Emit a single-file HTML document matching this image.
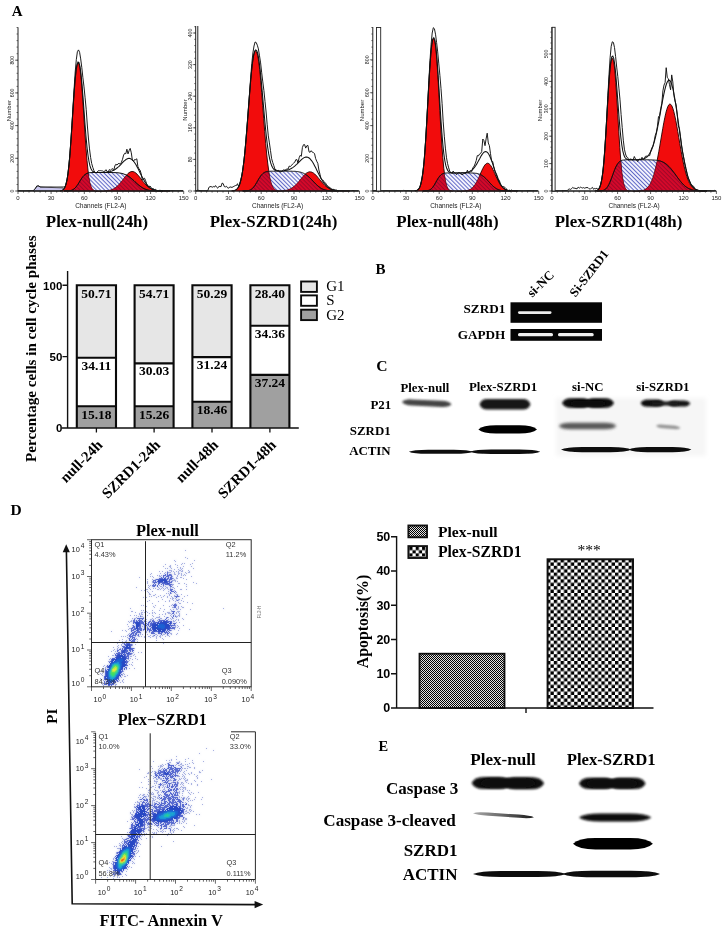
<!DOCTYPE html>
<html lang="en"><head><meta charset="utf-8"><title>Figure</title>
<style>html,body{margin:0;padding:0;background:#fff}svg{display:block}</style></head>
<body><svg width="724" height="930" viewBox="0 0 724 930">
<rect width="724" height="930" fill="#fff"/>
<defs>
<pattern id="hatch" width="2.9" height="2.9" patternUnits="userSpaceOnUse" patternTransform="rotate(-45)"><line x1="0.5" y1="0" x2="0.5" y2="2.9" stroke="#3a46b8" stroke-width="0.8"/></pattern>
<pattern id="hatchR" width="2.9" height="2.9" patternUnits="userSpaceOnUse" patternTransform="rotate(-45)"><line x1="0.5" y1="0" x2="0.5" y2="2.9" stroke="#7a0626" stroke-width="0.8" stroke-opacity="0.75"/></pattern>
<pattern id="chkS" width="2" height="2" patternUnits="userSpaceOnUse"><rect width="2" height="2" fill="#000"/><rect x="1" y="0" width="0.94" height="0.94" fill="#fff"/><rect x="0" y="1" width="0.94" height="0.94" fill="#fff"/></pattern>
<pattern id="chkL" x="547" y="559" width="6.8" height="6.8" patternUnits="userSpaceOnUse"><rect width="6.8" height="6.8" fill="#fff"/><rect width="3.4" height="3.4" fill="#000"/><rect x="3.4" y="3.4" width="3.4" height="3.4" fill="#000"/></pattern>
<pattern id="chkL2" x="409.3" y="547" width="6.4" height="6.4" patternUnits="userSpaceOnUse"><rect width="6.4" height="6.4" fill="#fff"/><rect width="3.2" height="3.2" fill="#000"/><rect x="3.2" y="3.2" width="3.2" height="3.2" fill="#000"/></pattern>
<filter id="b0" x="-20%" y="-80%" width="140%" height="260%"><feGaussianBlur stdDeviation="0.6"/></filter>
<filter id="b1" x="-20%" y="-80%" width="140%" height="260%"><feGaussianBlur stdDeviation="1.0"/></filter>
<filter id="b2" x="-20%" y="-80%" width="140%" height="260%"><feGaussianBlur stdDeviation="1.5"/></filter>
<filter id="b3" x="-20%" y="-80%" width="140%" height="260%"><feGaussianBlur stdDeviation="2.2"/></filter>
<filter id="b4" x="-20%" y="-80%" width="140%" height="260%"><feGaussianBlur stdDeviation="3.0"/></filter>
<filter id="bs" x="-5%" y="-5%" width="110%" height="110%"><feGaussianBlur stdDeviation="0.8"/></filter>
</defs>
<g>
<path d="M33,191 L37,186 L41,187 L63,188 L65,191 Z" fill="#c9c6ee" stroke="#222" stroke-width="0.6"/>
<path d="M60,191 L60,190.9 61,190.8 62,190.5 63,189.9 64,188.9 65,187.1 66,184.3 67,179.8 68,173.4 69,164.7 70,153.5 71,140.1 72,125.1 73,109.5 74,94.4 75,81.4 76,71.4 77,65.3 78,63 79,63.9 80,68.5 81,77 82,88.9 83,103.3 84,118.9 85,134.3 86,148.4 87,160.5 88,170.2 89,177.5 90,182.7 91,186.1 92,188.3 93,189.6 94,190.3 95,190.7 96,190.9 97,190.9 L97,191 Z" fill="#f20c0c" stroke="#200" stroke-width="0.9"/>
<path d="M95,191 L95,191 96,191 97,191 98,191 99,191 100,191 101,191 102,190.9 103,190.9 104,190.9 105,190.8 106,190.7 107,190.6 108,190.5 109,190.3 110,190.1 111,189.8 112,189.4 113,189 114,188.5 115,187.9 116,187.1 117,186.3 118,185.4 119,184.3 120,183.2 121,182 122,180.7 123,179.4 124,178.1 125,176.8 126,175.6 127,174.5 128,173.5 129,172.7 130,172.1 131,171.7 132,171.5 133,171.6 134,171.9 135,172.4 136,173.2 137,174.1 138,175.2 139,176.3 140,177.6 141,178.9 142,180.2 143,181.5 144,182.7 145,183.9 146,185 147,186 148,186.8 149,187.6 150,188.2 151,188.8 152,189.3 153,189.7 154,190 155,190.2 156,190.4 157,190.6 158,190.7 159,190.8 160,190.8 161,190.9 162,190.9 163,190.9 164,191 165,191 166,191 167,191 168,191 169,191 170,191 L170,191 Z" fill="#f20c0c" stroke="#200" stroke-width="0.9"/>
<path d="M64,191 L64,191 65,191 66,191 67,190.9 68,190.9 69,190.8 70,190.7 71,190.5 72,190.1 73,189.6 74,188.9 75,188.1 76,187 77,185.6 78,184.2 79,182.6 80,180.9 81,179.3 82,177.9 83,176.5 84,175.4 85,174.6 86,173.9 87,173.4 88,173 89,172.8 90,172.7 91,172.6 92,172.6 93,172.5 94,172.5 95,172.5 96,172.5 97,172.5 98,172.5 99,172.5 100,172.5 101,172.5 102,172.5 103,172.5 104,172.5 105,172.5 106,172.5 107,172.5 108,172.5 109,172.5 110,172.5 111,172.5 112,172.5 113,172.6 114,172.6 115,172.6 116,172.7 117,172.7 118,172.8 119,172.9 120,173.1 121,173.2 122,173.5 123,173.7 124,174.1 125,174.5 126,174.9 127,175.4 128,176 129,176.7 130,177.4 131,178.2 132,179 133,179.9 134,180.8 135,181.8 136,182.7 137,183.6 138,184.5 139,185.3 140,186.1 141,186.8 142,187.5 143,188.1 144,188.6 145,189 146,189.4 147,189.8 148,190 149,190.3 150,190.4 151,190.6 152,190.7 153,190.8 154,190.8 155,190.9 156,190.9 157,190.9 158,191 159,191 160,191 161,191 162,191 163,191 L163,191 Z" fill="#fff" fill-opacity="0.22"/>
<clipPath id="cs1"><path d="M64,191 L64,191 65,191 66,191 67,190.9 68,190.9 69,190.8 70,190.7 71,190.5 72,190.1 73,189.6 74,188.9 75,188.1 76,187 77,185.6 78,184.2 79,182.6 80,180.9 81,179.3 82,177.9 83,176.5 84,175.4 85,174.6 86,173.9 87,173.4 88,173 89,172.8 90,172.7 91,172.6 92,172.6 93,172.5 94,172.5 95,172.5 96,172.5 97,172.5 98,172.5 99,172.5 100,172.5 101,172.5 102,172.5 103,172.5 104,172.5 105,172.5 106,172.5 107,172.5 108,172.5 109,172.5 110,172.5 111,172.5 112,172.5 113,172.6 114,172.6 115,172.6 116,172.7 117,172.7 118,172.8 119,172.9 120,173.1 121,173.2 122,173.5 123,173.7 124,174.1 125,174.5 126,174.9 127,175.4 128,176 129,176.7 130,177.4 131,178.2 132,179 133,179.9 134,180.8 135,181.8 136,182.7 137,183.6 138,184.5 139,185.3 140,186.1 141,186.8 142,187.5 143,188.1 144,188.6 145,189 146,189.4 147,189.8 148,190 149,190.3 150,190.4 151,190.6 152,190.7 153,190.8 154,190.8 155,190.9 156,190.9 157,190.9 158,191 159,191 160,191 161,191 162,191 163,191 L163,191 Z"/></clipPath>
<path d="M89,172.8 90,172.7 91,172.6 92,172.6 93,172.5 94,172.5 95,172.5 96,172.5 97,172.5 98,172.5 99,172.5 100,172.5 101,172.5 102,172.5 103,172.5 104,172.5 105,172.5 106,172.5 107,172.5 108,172.5 109,172.5 110,172.5 111,172.5 112,172.5 113,172.6 114,172.6 115,172.6 116,172.7 117,172.7 118,172.8 119,172.9 120,173.1 121,173.2 122,173.5 123,173.7 124,174.1 125,174.5 126,174.9 L126,175.6 125,176.8 124,178.1 123,179.4 122,180.7 121,182 120,183.2 119,184.3 118,185.4 117,186.3 116,187.1 115,187.9 114,188.5 113,189 112,189.4 111,189.8 110,190.1 109,190.3 108,190.5 107,190.6 106,190.7 105,190.8 104,190.9 103,190.9 102,190.9 101,191 100,191 99,191 98,191 97,190.9 96,190.9 95,190.7 94,190.3 93,189.6 92,188.3 91,186.1 90,182.7 89,177.5Z" fill="#f4f3fd"/>
<path d="M64,191 L64,191 65,191 66,191 67,190.9 68,190.9 69,190.8 70,190.7 71,190.5 72,190.1 73,189.6 74,188.9 75,188.1 76,187 77,185.6 78,184.2 79,182.6 80,180.9 81,179.3 82,177.9 83,176.5 84,175.4 85,174.6 86,173.9 87,173.4 88,173 89,172.8 90,172.7 91,172.6 92,172.6 93,172.5 94,172.5 95,172.5 96,172.5 97,172.5 98,172.5 99,172.5 100,172.5 101,172.5 102,172.5 103,172.5 104,172.5 105,172.5 106,172.5 107,172.5 108,172.5 109,172.5 110,172.5 111,172.5 112,172.5 113,172.6 114,172.6 115,172.6 116,172.7 117,172.7 118,172.8 119,172.9 120,173.1 121,173.2 122,173.5 123,173.7 124,174.1 125,174.5 126,174.9 127,175.4 128,176 129,176.7 130,177.4 131,178.2 132,179 133,179.9 134,180.8 135,181.8 136,182.7 137,183.6 138,184.5 139,185.3 140,186.1 141,186.8 142,187.5 143,188.1 144,188.6 145,189 146,189.4 147,189.8 148,190 149,190.3 150,190.4 151,190.6 152,190.7 153,190.8 154,190.8 155,190.9 156,190.9 157,190.9 158,191 159,191 160,191 161,191 162,191 163,191 L163,191 Z" fill="url(#hatch)"/>
<path d="M64,191 L64,191 65,191 66,191 67,190.9 68,190.9 69,190.8 70,190.7 71,190.5 72,190.1 73,189.6 74,188.9 75,188.1 76,187 77,185.6 78,184.2 79,182.6 80,180.9 81,179.3 82,177.9 83,176.5 84,175.4 85,174.6 86,173.9 87,173.4 88,173 89,177.5 90,182.7 91,186.1 92,188.3 93,189.6 94,190.3 95,190.7 96,190.9 97,190.9 98,191 99,191 100,191 101,191 102,190.9 103,190.9 104,190.9 105,190.8 106,190.7 107,190.6 108,190.5 109,190.3 110,190.1 111,189.8 112,189.4 113,189 114,188.5 115,187.9 116,187.1 117,186.3 118,185.4 119,184.3 120,183.2 121,182 122,180.7 123,179.4 124,178.1 125,176.8 126,175.6 127,175.4 128,176 129,176.7 130,177.4 131,178.2 132,179 133,179.9 134,180.8 135,181.8 136,182.7 137,183.6 138,184.5 139,185.3 140,186.1 141,186.8 142,187.5 143,188.1 144,188.6 145,189 146,189.4 147,189.8 148,190 149,190.3 150,190.4 151,190.6 152,190.7 153,190.8 154,190.8 155,190.9 156,190.9 157,190.9 158,191 159,191 160,191 161,191 162,191 163,191 L163,191 Z" fill="#d4082a"/>
<path d="M64,191 L64,191 65,191 66,191 67,190.9 68,190.9 69,190.8 70,190.7 71,190.5 72,190.1 73,189.6 74,188.9 75,188.1 76,187 77,185.6 78,184.2 79,182.6 80,180.9 81,179.3 82,177.9 83,176.5 84,175.4 85,174.6 86,173.9 87,173.4 88,173 89,177.5 90,182.7 91,186.1 92,188.3 93,189.6 94,190.3 95,190.7 96,190.9 97,190.9 98,191 99,191 100,191 101,191 102,190.9 103,190.9 104,190.9 105,190.8 106,190.7 107,190.6 108,190.5 109,190.3 110,190.1 111,189.8 112,189.4 113,189 114,188.5 115,187.9 116,187.1 117,186.3 118,185.4 119,184.3 120,183.2 121,182 122,180.7 123,179.4 124,178.1 125,176.8 126,175.6 127,175.4 128,176 129,176.7 130,177.4 131,178.2 132,179 133,179.9 134,180.8 135,181.8 136,182.7 137,183.6 138,184.5 139,185.3 140,186.1 141,186.8 142,187.5 143,188.1 144,188.6 145,189 146,189.4 147,189.8 148,190 149,190.3 150,190.4 151,190.6 152,190.7 153,190.8 154,190.8 155,190.9 156,190.9 157,190.9 158,191 159,191 160,191 161,191 162,191 163,191 L163,191 Z" fill="url(#hatchR)" stroke="#300" stroke-width="0.5"/>
<path d="M64,191 L64,191 65,191 66,191 67,190.9 68,190.9 69,190.8 70,190.7 71,190.5 72,190.1 73,189.6 74,188.9 75,188.1 76,187 77,185.6 78,184.2 79,182.6 80,180.9 81,179.3 82,177.9 83,176.5 84,175.4 85,174.6 86,173.9 87,173.4 88,173 89,172.8 90,172.7 91,172.6 92,172.6 93,172.5 94,172.5 95,172.5 96,172.5 97,172.5 98,172.5 99,172.5 100,172.5 101,172.5 102,172.5 103,172.5 104,172.5 105,172.5 106,172.5 107,172.5 108,172.5 109,172.5 110,172.5 111,172.5 112,172.5 113,172.6 114,172.6 115,172.6 116,172.7 117,172.7 118,172.8 119,172.9 120,173.1 121,173.2 122,173.5 123,173.7 124,174.1 125,174.5 126,174.9 127,175.4 128,176 129,176.7 130,177.4 131,178.2 132,179 133,179.9 134,180.8 135,181.8 136,182.7 137,183.6 138,184.5 139,185.3 140,186.1 141,186.8 142,187.5 143,188.1 144,188.6 145,189 146,189.4 147,189.8 148,190 149,190.3 150,190.4 151,190.6 152,190.7 153,190.8 154,190.8 155,190.9 156,190.9 157,190.9 158,191 159,191 160,191 161,191 162,191 163,191 L163,191 Z" fill="none" stroke="#111" stroke-width="1"/>
<path d="M18,191 19,191 20,191 21,191 22,191 23,191 24,191 25,191 26,191 27,191 28,191 29,191 30,191 31,191 32,191 33,191 34,191 35,191 36,191 37,191 38,191 39,191 40,191 41,191 42,191 43,191 44,191 45,191 46,191 47,191 48,191 49,191 50,191 51,191 52,191 53,191 54,191 55,191 56,191 57,191 58,191 59,191 60,190.9 61,190.8 62,190.5 63,189.9 64,188.9 65,187.1 66,184.2 67,179.8 68,173.3 69,164.5 70,153.3 71,139.8 72,124.6 73,108.8 74,93.7 75,80.5 76,70.5 77,64.4 78,62 79,62.6 80,66.5 81,74 82,84.5 83,97.2 84,110.8 85,124.2 86,136.5 87,147 88,155.3 89,161.5 90,165.9 91,168.7 92,170.5 93,171.5 94,172 95,172.3 96,172.4 97,172.5 98,172.5 99,172.5 100,172.5 101,172.5 102,172.4 103,172.4 104,172.4 105,172.3 106,172.2 107,172.1 108,172 109,171.8 110,171.6 111,171.3 112,171 113,170.6 114,170.1 115,169.5 116,168.8 117,168 118,167.2 119,166.3 120,165.3 121,164.3 122,163.2 123,162.2 124,161.2 125,160.3 126,159.5 127,158.9 128,158.5 129,158.4 130,158.5 131,158.9 132,159.6 133,160.5 134,161.7 135,163.2 136,164.8 137,166.7 138,168.6 139,170.6 140,172.7 141,174.7 142,176.7 143,178.6 144,180.3 145,182 146,183.4 147,184.7 148,185.9 149,186.8 150,187.7 151,188.4 152,189 153,189.4 154,189.8 155,190.1 156,190.3 157,190.5 158,190.6 159,190.7 160,190.8 161,190.9 162,190.9 163,190.9 164,191 165,191 166,191 167,191 168,191 169,191 170,191 171,191 172,191 173,191 174,191 175,191 176,191 177,191 178,191 179,191 180,191 181,191 182,191 183,191" fill="none" stroke="#111" stroke-width="1.05"/>
<path d="M18,190.7 19.1,190.7 20.2,190.7 21.3,190.7 22.4,190.7 23.5,190.7 24.6,190.7 25.7,190.7 26.8,190.7 27.9,190.7 29,190.7 30.1,190.7 31.2,190.6 32.3,190.6 33.4,190.6 34.5,189.5 35.6,188.4 36.7,186.1 37.8,185.8 38.9,185.8 40,187 41.1,187 42.2,187 43.3,187 44.4,187 45.5,187 46.6,187 47.7,187 48.8,187 49.9,187 51,187 52.1,187 53.2,187 54.3,187 55.4,187 56.5,187 57.6,187 58.7,187 59.8,187 60.9,187 62,187 63.1,187 64.2,187 65.3,186.2 66.4,182.5 67.5,177.4 68.6,168.2 69.7,157.4 70.8,141.3 71.9,125.6 73,106.9 74.1,89 75.2,72 76.3,59.7 77.4,51.6 78.5,49.9 79.6,52.3 80.7,58.9 81.8,67.6 82.9,77.7 84,86.9 85.1,97.8 86.2,109.3 87.3,125 88.4,138 89.5,148.9 90.6,157.4 91.7,163.5 92.8,167.4 93.9,170.5 95,172.6 96.1,172.9 97.2,172.1 98.3,170.7 99.4,170.7 100.5,170.6 101.6,170.8 102.7,171 103.8,171.6 104.9,171.1 106,169.7 107.1,171.4 108.2,172.4 109.3,169.6 110.4,170.2 111.5,169.3 112.6,168.6 113.7,170.6 114.8,166 115.9,164.2 117,165.1 118.1,163.7 119.2,163.4 120.3,164.4 121.4,162.3 122.5,159.3 123.6,155.1 124.7,153.3 125.8,153.7 126.9,149.2 128,153.9 129.1,150.6 130.2,148.4 131.3,152.8 132.4,160.4 133.5,161.4 134.6,159.5 135.7,159.6 136.8,158.8 137.9,166.6 139,168.9 140.1,170.2 141.2,173.8 142.3,179.9 143.4,178.9 144.5,178.2 145.6,180.6 146.7,184.3 147.8,185.9 148.9,186.7 150,186 151.1,187.4 152.2,188.6 153.3,188.6 154.4,189.6 155.5,189.3 156.6,190.4 157.7,190.7 158.8,190.5 159.9,190.3 161,190.5 162.1,190.7 163.2,190.7 164.3,190.7 165.4,190.7 166.5,190.7 167.6,190.7 168.7,190.7 169.8,190.7 170.9,190.7 172,190.7 173.1,190.7 174.2,190.7 175.3,190.7 176.4,190.7 177.5,190.7 178.6,190.7 179.7,190.7 180.8,190.5 181.9,190.7 183,190.7" fill="none" stroke="#111" stroke-width="0.95" stroke-linejoin="round"/>
<path d="M18,27.3 V191 H183.7" fill="none" stroke="#222" stroke-width="1"/>
<path d="M18,191v3M23.5,191v1.6M29,191v1.6M34.6,191v1.6M40.1,191v1.6M45.6,191v1.6M51.1,191v3M56.7,191v1.6M62.2,191v1.6M67.7,191v1.6M73.2,191v1.6M78.8,191v1.6M84.3,191v3M89.8,191v1.6M95.3,191v1.6M100.8,191v1.6M106.4,191v1.6M111.9,191v1.6M117.4,191v3M122.9,191v1.6M128.5,191v1.6M134,191v1.6M139.5,191v1.6M145,191v1.6M150.6,191v3M156.1,191v1.6M161.6,191v1.6M167.1,191v1.6M172.7,191v1.6M178.2,191v1.6M183.7,191v3" stroke="#222" stroke-width="0.7"/>
<text x="18" y="200.3" font-family='"Liberation Sans", sans-serif' font-size="6" text-anchor="middle" fill="#222">0</text>
<text x="51.1" y="200.3" font-family='"Liberation Sans", sans-serif' font-size="6" text-anchor="middle" fill="#222">30</text>
<text x="84.3" y="200.3" font-family='"Liberation Sans", sans-serif' font-size="6" text-anchor="middle" fill="#222">60</text>
<text x="117.4" y="200.3" font-family='"Liberation Sans", sans-serif' font-size="6" text-anchor="middle" fill="#222">90</text>
<text x="150.6" y="200.3" font-family='"Liberation Sans", sans-serif' font-size="6" text-anchor="middle" fill="#222">120</text>
<text x="183.7" y="200.3" font-family='"Liberation Sans", sans-serif' font-size="6" text-anchor="middle" fill="#222">150</text>
<text x="100.8" y="208.2" font-family='"Liberation Sans", sans-serif' font-size="6.5" text-anchor="middle" fill="#222">Channels (FL2-A)</text>
<text transform="translate(14,191) rotate(-90)" font-family='"Liberation Sans", sans-serif' font-size="5.2" text-anchor="middle" fill="#222">0</text>
<text transform="translate(14,158.3) rotate(-90)" font-family='"Liberation Sans", sans-serif' font-size="5.2" text-anchor="middle" fill="#222">200</text>
<text transform="translate(14,125.6) rotate(-90)" font-family='"Liberation Sans", sans-serif' font-size="5.2" text-anchor="middle" fill="#222">400</text>
<text transform="translate(14,92.9) rotate(-90)" font-family='"Liberation Sans", sans-serif' font-size="5.2" text-anchor="middle" fill="#222">600</text>
<text transform="translate(14,60.2) rotate(-90)" font-family='"Liberation Sans", sans-serif' font-size="5.2" text-anchor="middle" fill="#222">800</text>
<path d="M18,191h-3M18,158.3h-3M18,125.6h-3M18,92.9h-3M18,60.2h-3M18,191h-1.5M18,184.5h-1.5M18,177.9h-1.5M18,171.4h-1.5M18,164.8h-1.5M18,158.3h-1.5M18,151.8h-1.5M18,145.2h-1.5M18,138.7h-1.5M18,132.1h-1.5M18,125.6h-1.5M18,119.1h-1.5M18,112.5h-1.5M18,106h-1.5M18,99.4h-1.5M18,92.9h-1.5M18,86.4h-1.5M18,79.8h-1.5M18,73.3h-1.5M18,66.7h-1.5M18,60.2h-1.5M18,53.7h-1.5M18,47.1h-1.5M18,40.6h-1.5M18,34h-1.5M18,27.5h-1.5" stroke="#222" stroke-width="0.6"/>
<text transform="translate(11,110.7) rotate(-90)" font-family='"Liberation Sans", sans-serif' font-size="6" text-anchor="middle" fill="#222">Number</text>
</g>
<g>
<path d="M231.7,191 L231.7,190.9 232.7,190.8 233.7,190.7 234.7,190.4 235.7,190 236.7,189.3 237.7,188.3 238.7,186.6 239.7,184.3 240.7,180.9 241.7,176.4 242.7,170.5 243.7,163 244.7,154 245.7,143.4 246.7,131.5 247.7,118.7 248.7,105.4 249.7,92.4 250.7,80.3 251.7,69.7 252.7,61.3 253.7,55.3 254.7,51.9 255.7,51 256.7,51.9 257.7,55.3 258.7,61.3 259.7,69.7 260.7,80.3 261.7,92.4 262.7,105.4 263.7,118.7 264.7,131.5 265.7,143.4 266.7,154 267.7,163 268.7,170.5 269.7,176.4 270.7,180.9 271.7,184.3 272.7,186.6 273.7,188.3 274.7,189.3 275.7,190 276.7,190.4 277.7,190.7 278.7,190.8 279.7,190.9 L279.7,191 Z" fill="#f20c0c" stroke="#200" stroke-width="0.9"/>
<path d="M270.7,191 L270.7,191 271.7,191 272.7,191 273.7,191 274.7,191 275.7,191 276.7,191 277.7,190.9 278.7,190.9 279.7,190.9 280.7,190.8 281.7,190.8 282.7,190.7 283.7,190.6 284.7,190.4 285.7,190.3 286.7,190.1 287.7,189.8 288.7,189.4 289.7,189 290.7,188.6 291.7,188 292.7,187.3 293.7,186.6 294.7,185.8 295.7,184.8 296.7,183.8 297.7,182.7 298.7,181.5 299.7,180.3 300.7,179.1 301.7,177.9 302.7,176.7 303.7,175.6 304.7,174.6 305.7,173.7 306.7,172.9 307.7,172.4 308.7,172 309.7,171.8 310.7,171.9 311.7,172.1 312.7,172.6 313.7,173.2 314.7,174 315.7,175 316.7,176 317.7,177.2 318.7,178.4 319.7,179.6 320.7,180.8 321.7,182 322.7,183.1 323.7,184.2 324.7,185.2 325.7,186.1 326.7,186.9 327.7,187.6 328.7,188.2 329.7,188.8 330.7,189.2 331.7,189.6 332.7,189.9 333.7,190.1 334.7,190.3 335.7,190.5 336.7,190.6 337.7,190.7 338.7,190.8 339.7,190.9 340.7,190.9 341.7,190.9 342.7,190.9 343.7,191 344.7,191 345.7,191 346.7,191 347.7,191 348.7,191 349.7,191 L349.7,191 Z" fill="#f20c0c" stroke="#200" stroke-width="0.9"/>
<path d="M242.7,191 L242.7,191 243.7,191 244.7,191 245.7,190.9 246.7,190.8 247.7,190.7 248.7,190.5 249.7,190.2 250.7,189.7 251.7,189 252.7,188.2 253.7,187.1 254.7,185.7 255.7,184.2 256.7,182.5 257.7,180.7 258.7,179 259.7,177.4 260.7,175.9 261.7,174.7 262.7,173.7 263.7,172.9 264.7,172.3 265.7,171.9 266.7,171.6 267.7,171.4 268.7,171.3 269.7,171.3 270.7,171.2 271.7,171.2 272.7,171.2 273.7,171.2 274.7,171.2 275.7,171.2 276.7,171.2 277.7,171.2 278.7,171.2 279.7,171.2 280.7,171.2 281.7,171.2 282.7,171.2 283.7,171.2 284.7,171.2 285.7,171.2 286.7,171.2 287.7,171.2 288.7,171.2 289.7,171.2 290.7,171.2 291.7,171.2 292.7,171.3 293.7,171.3 294.7,171.3 295.7,171.4 296.7,171.5 297.7,171.6 298.7,171.8 299.7,172 300.7,172.2 301.7,172.5 302.7,172.9 303.7,173.3 304.7,173.9 305.7,174.5 306.7,175.2 307.7,175.9 308.7,176.8 309.7,177.7 310.7,178.7 311.7,179.7 312.7,180.8 313.7,181.8 314.7,182.9 315.7,183.9 316.7,184.8 317.7,185.7 318.7,186.6 319.7,187.3 320.7,188 321.7,188.6 322.7,189.1 323.7,189.5 324.7,189.8 325.7,190.1 326.7,190.3 327.7,190.5 328.7,190.6 329.7,190.7 330.7,190.8 331.7,190.9 332.7,190.9 333.7,190.9 334.7,191 335.7,191 336.7,191 337.7,191 338.7,191 L338.7,191 Z" fill="#fff" fill-opacity="0.22"/>
<clipPath id="cs2"><path d="M242.7,191 L242.7,191 243.7,191 244.7,191 245.7,190.9 246.7,190.8 247.7,190.7 248.7,190.5 249.7,190.2 250.7,189.7 251.7,189 252.7,188.2 253.7,187.1 254.7,185.7 255.7,184.2 256.7,182.5 257.7,180.7 258.7,179 259.7,177.4 260.7,175.9 261.7,174.7 262.7,173.7 263.7,172.9 264.7,172.3 265.7,171.9 266.7,171.6 267.7,171.4 268.7,171.3 269.7,171.3 270.7,171.2 271.7,171.2 272.7,171.2 273.7,171.2 274.7,171.2 275.7,171.2 276.7,171.2 277.7,171.2 278.7,171.2 279.7,171.2 280.7,171.2 281.7,171.2 282.7,171.2 283.7,171.2 284.7,171.2 285.7,171.2 286.7,171.2 287.7,171.2 288.7,171.2 289.7,171.2 290.7,171.2 291.7,171.2 292.7,171.3 293.7,171.3 294.7,171.3 295.7,171.4 296.7,171.5 297.7,171.6 298.7,171.8 299.7,172 300.7,172.2 301.7,172.5 302.7,172.9 303.7,173.3 304.7,173.9 305.7,174.5 306.7,175.2 307.7,175.9 308.7,176.8 309.7,177.7 310.7,178.7 311.7,179.7 312.7,180.8 313.7,181.8 314.7,182.9 315.7,183.9 316.7,184.8 317.7,185.7 318.7,186.6 319.7,187.3 320.7,188 321.7,188.6 322.7,189.1 323.7,189.5 324.7,189.8 325.7,190.1 326.7,190.3 327.7,190.5 328.7,190.6 329.7,190.7 330.7,190.8 331.7,190.9 332.7,190.9 333.7,190.9 334.7,191 335.7,191 336.7,191 337.7,191 338.7,191 L338.7,191 Z"/></clipPath>
<path d="M269.7,171.3 270.7,171.2 271.7,171.2 272.7,171.2 273.7,171.2 274.7,171.2 275.7,171.2 276.7,171.2 277.7,171.2 278.7,171.2 279.7,171.2 280.7,171.2 281.7,171.2 282.7,171.2 283.7,171.2 284.7,171.2 285.7,171.2 286.7,171.2 287.7,171.2 288.7,171.2 289.7,171.2 290.7,171.2 291.7,171.2 292.7,171.3 293.7,171.3 294.7,171.3 295.7,171.4 296.7,171.5 297.7,171.6 298.7,171.8 299.7,172 300.7,172.2 301.7,172.5 302.7,172.9 303.7,173.3 304.7,173.9 L304.7,174.6 303.7,175.6 302.7,176.7 301.7,177.9 300.7,179.1 299.7,180.3 298.7,181.5 297.7,182.7 296.7,183.8 295.7,184.8 294.7,185.8 293.7,186.6 292.7,187.3 291.7,188 290.7,188.6 289.7,189 288.7,189.4 287.7,189.8 286.7,190.1 285.7,190.3 284.7,190.4 283.7,190.6 282.7,190.7 281.7,190.8 280.7,190.8 279.7,190.9 278.7,190.8 277.7,190.7 276.7,190.4 275.7,190 274.7,189.3 273.7,188.3 272.7,186.6 271.7,184.3 270.7,180.9 269.7,176.4Z" fill="#f4f3fd"/>
<path d="M242.7,191 L242.7,191 243.7,191 244.7,191 245.7,190.9 246.7,190.8 247.7,190.7 248.7,190.5 249.7,190.2 250.7,189.7 251.7,189 252.7,188.2 253.7,187.1 254.7,185.7 255.7,184.2 256.7,182.5 257.7,180.7 258.7,179 259.7,177.4 260.7,175.9 261.7,174.7 262.7,173.7 263.7,172.9 264.7,172.3 265.7,171.9 266.7,171.6 267.7,171.4 268.7,171.3 269.7,171.3 270.7,171.2 271.7,171.2 272.7,171.2 273.7,171.2 274.7,171.2 275.7,171.2 276.7,171.2 277.7,171.2 278.7,171.2 279.7,171.2 280.7,171.2 281.7,171.2 282.7,171.2 283.7,171.2 284.7,171.2 285.7,171.2 286.7,171.2 287.7,171.2 288.7,171.2 289.7,171.2 290.7,171.2 291.7,171.2 292.7,171.3 293.7,171.3 294.7,171.3 295.7,171.4 296.7,171.5 297.7,171.6 298.7,171.8 299.7,172 300.7,172.2 301.7,172.5 302.7,172.9 303.7,173.3 304.7,173.9 305.7,174.5 306.7,175.2 307.7,175.9 308.7,176.8 309.7,177.7 310.7,178.7 311.7,179.7 312.7,180.8 313.7,181.8 314.7,182.9 315.7,183.9 316.7,184.8 317.7,185.7 318.7,186.6 319.7,187.3 320.7,188 321.7,188.6 322.7,189.1 323.7,189.5 324.7,189.8 325.7,190.1 326.7,190.3 327.7,190.5 328.7,190.6 329.7,190.7 330.7,190.8 331.7,190.9 332.7,190.9 333.7,190.9 334.7,191 335.7,191 336.7,191 337.7,191 338.7,191 L338.7,191 Z" fill="url(#hatch)"/>
<path d="M242.7,191 L242.7,191 243.7,191 244.7,191 245.7,190.9 246.7,190.8 247.7,190.7 248.7,190.5 249.7,190.2 250.7,189.7 251.7,189 252.7,188.2 253.7,187.1 254.7,185.7 255.7,184.2 256.7,182.5 257.7,180.7 258.7,179 259.7,177.4 260.7,175.9 261.7,174.7 262.7,173.7 263.7,172.9 264.7,172.3 265.7,171.9 266.7,171.6 267.7,171.4 268.7,171.3 269.7,176.4 270.7,180.9 271.7,184.3 272.7,186.6 273.7,188.3 274.7,189.3 275.7,190 276.7,190.4 277.7,190.7 278.7,190.8 279.7,190.9 280.7,190.8 281.7,190.8 282.7,190.7 283.7,190.6 284.7,190.4 285.7,190.3 286.7,190.1 287.7,189.8 288.7,189.4 289.7,189 290.7,188.6 291.7,188 292.7,187.3 293.7,186.6 294.7,185.8 295.7,184.8 296.7,183.8 297.7,182.7 298.7,181.5 299.7,180.3 300.7,179.1 301.7,177.9 302.7,176.7 303.7,175.6 304.7,174.6 305.7,174.5 306.7,175.2 307.7,175.9 308.7,176.8 309.7,177.7 310.7,178.7 311.7,179.7 312.7,180.8 313.7,181.8 314.7,182.9 315.7,183.9 316.7,184.8 317.7,185.7 318.7,186.6 319.7,187.3 320.7,188 321.7,188.6 322.7,189.1 323.7,189.5 324.7,189.8 325.7,190.1 326.7,190.3 327.7,190.5 328.7,190.6 329.7,190.7 330.7,190.8 331.7,190.9 332.7,190.9 333.7,190.9 334.7,191 335.7,191 336.7,191 337.7,191 338.7,191 L338.7,191 Z" fill="#d4082a"/>
<path d="M242.7,191 L242.7,191 243.7,191 244.7,191 245.7,190.9 246.7,190.8 247.7,190.7 248.7,190.5 249.7,190.2 250.7,189.7 251.7,189 252.7,188.2 253.7,187.1 254.7,185.7 255.7,184.2 256.7,182.5 257.7,180.7 258.7,179 259.7,177.4 260.7,175.9 261.7,174.7 262.7,173.7 263.7,172.9 264.7,172.3 265.7,171.9 266.7,171.6 267.7,171.4 268.7,171.3 269.7,176.4 270.7,180.9 271.7,184.3 272.7,186.6 273.7,188.3 274.7,189.3 275.7,190 276.7,190.4 277.7,190.7 278.7,190.8 279.7,190.9 280.7,190.8 281.7,190.8 282.7,190.7 283.7,190.6 284.7,190.4 285.7,190.3 286.7,190.1 287.7,189.8 288.7,189.4 289.7,189 290.7,188.6 291.7,188 292.7,187.3 293.7,186.6 294.7,185.8 295.7,184.8 296.7,183.8 297.7,182.7 298.7,181.5 299.7,180.3 300.7,179.1 301.7,177.9 302.7,176.7 303.7,175.6 304.7,174.6 305.7,174.5 306.7,175.2 307.7,175.9 308.7,176.8 309.7,177.7 310.7,178.7 311.7,179.7 312.7,180.8 313.7,181.8 314.7,182.9 315.7,183.9 316.7,184.8 317.7,185.7 318.7,186.6 319.7,187.3 320.7,188 321.7,188.6 322.7,189.1 323.7,189.5 324.7,189.8 325.7,190.1 326.7,190.3 327.7,190.5 328.7,190.6 329.7,190.7 330.7,190.8 331.7,190.9 332.7,190.9 333.7,190.9 334.7,191 335.7,191 336.7,191 337.7,191 338.7,191 L338.7,191 Z" fill="url(#hatchR)" stroke="#300" stroke-width="0.5"/>
<path d="M242.7,191 L242.7,191 243.7,191 244.7,191 245.7,190.9 246.7,190.8 247.7,190.7 248.7,190.5 249.7,190.2 250.7,189.7 251.7,189 252.7,188.2 253.7,187.1 254.7,185.7 255.7,184.2 256.7,182.5 257.7,180.7 258.7,179 259.7,177.4 260.7,175.9 261.7,174.7 262.7,173.7 263.7,172.9 264.7,172.3 265.7,171.9 266.7,171.6 267.7,171.4 268.7,171.3 269.7,171.3 270.7,171.2 271.7,171.2 272.7,171.2 273.7,171.2 274.7,171.2 275.7,171.2 276.7,171.2 277.7,171.2 278.7,171.2 279.7,171.2 280.7,171.2 281.7,171.2 282.7,171.2 283.7,171.2 284.7,171.2 285.7,171.2 286.7,171.2 287.7,171.2 288.7,171.2 289.7,171.2 290.7,171.2 291.7,171.2 292.7,171.3 293.7,171.3 294.7,171.3 295.7,171.4 296.7,171.5 297.7,171.6 298.7,171.8 299.7,172 300.7,172.2 301.7,172.5 302.7,172.9 303.7,173.3 304.7,173.9 305.7,174.5 306.7,175.2 307.7,175.9 308.7,176.8 309.7,177.7 310.7,178.7 311.7,179.7 312.7,180.8 313.7,181.8 314.7,182.9 315.7,183.9 316.7,184.8 317.7,185.7 318.7,186.6 319.7,187.3 320.7,188 321.7,188.6 322.7,189.1 323.7,189.5 324.7,189.8 325.7,190.1 326.7,190.3 327.7,190.5 328.7,190.6 329.7,190.7 330.7,190.8 331.7,190.9 332.7,190.9 333.7,190.9 334.7,191 335.7,191 336.7,191 337.7,191 338.7,191 L338.7,191 Z" fill="none" stroke="#111" stroke-width="1"/>
<path d="M195.7,191 196.7,191 197.7,191 198.7,191 199.7,191 200.7,191 201.7,191 202.7,191 203.7,191 204.7,191 205.7,191 206.7,191 207.7,191 208.7,191 209.7,191 210.7,191 211.7,191 212.7,191 213.7,191 214.7,191 215.7,191 216.7,191 217.7,191 218.7,191 219.7,191 220.7,191 221.7,191 222.7,191 223.7,191 224.7,191 225.7,191 226.7,191 227.7,191 228.7,191 229.7,191 230.7,191 231.7,190.9 232.7,190.8 233.7,190.7 234.7,190.4 235.7,190 236.7,189.3 237.7,188.3 238.7,186.6 239.7,184.3 240.7,180.9 241.7,176.4 242.7,170.5 243.7,163 244.7,154 245.7,143.3 246.7,131.4 247.7,118.5 248.7,105.2 249.7,92.1 250.7,79.9 251.7,69.2 252.7,60.7 253.7,54.6 254.7,51.1 255.7,50 256.7,50.6 257.7,53.4 258.7,58.6 259.7,66 260.7,75.2 261.7,85.7 262.7,97.1 263.7,108.6 264.7,119.8 265.7,130.2 266.7,139.5 267.7,147.4 268.7,153.9 269.7,159 270.7,162.9 271.7,165.8 272.7,167.7 273.7,169.1 274.7,170 275.7,170.5 276.7,170.8 277.7,171 278.7,171 279.7,171 280.7,171 281.7,171 282.7,170.9 283.7,170.8 284.7,170.6 285.7,170.5 286.7,170.3 287.7,170 288.7,169.7 289.7,169.3 290.7,168.8 291.7,168.2 292.7,167.6 293.7,166.9 294.7,166.1 295.7,165.2 296.7,164.3 297.7,163.3 298.7,162.3 299.7,161.3 300.7,160.3 301.7,159.4 302.7,158.6 303.7,157.9 304.7,157.4 305.7,157.1 306.7,157.1 307.7,157.3 308.7,157.8 309.7,158.5 310.7,159.6 311.7,160.8 312.7,162.3 313.7,164 314.7,165.9 315.7,167.8 316.7,169.9 317.7,171.9 318.7,173.9 319.7,175.9 320.7,177.8 321.7,179.6 322.7,181.2 323.7,182.7 324.7,184 325.7,185.2 326.7,186.2 327.7,187.1 328.7,187.9 329.7,188.5 330.7,189 331.7,189.5 332.7,189.8 333.7,190.1 334.7,190.3 335.7,190.5 336.7,190.6 337.7,190.7 338.7,190.8 339.7,190.9 340.7,190.9 341.7,190.9 342.7,190.9 343.7,191 344.7,191 345.7,191 346.7,191 347.7,191 348.7,191 349.7,191 350.7,191 351.7,191 352.7,191 353.7,191 354.7,191 355.7,191 356.7,191 357.7,191 358.7,191" fill="none" stroke="#111" stroke-width="1.05"/>
<path d="M195.7,190.7 196.8,190.7 197.9,190.1 199,190.5 200.1,190.7 201.2,190.7 202.3,190.7 203.4,190.7 204.5,190.7 205.6,190.7 206.7,190.7 207.8,190.7 208.9,187.3 210,186.7 211.1,186.5 212.2,187.3 213.3,186.5 214.4,187.1 215.5,185.6 216.6,187.2 217.7,188.2 218.8,186.5 219.9,186.4 221,186.7 222.1,183.1 223.2,183.6 224.3,186.6 225.4,186.9 226.5,186.3 227.6,187.8 228.7,188.2 229.8,186.9 230.9,187.1 232,187.4 233.1,186.8 234.2,186.2 235.3,185.6 236.4,185.5 237.5,183.7 238.6,186.7 239.7,183.9 240.8,179.7 241.9,175.3 243,167.9 244.1,159.7 245.2,148.4 246.3,135.1 247.4,121.5 248.5,106.6 249.6,92.6 250.7,77.3 251.8,63.6 252.9,53 254,46 255.1,42 256.2,42.5 257.3,45.2 258.4,48.9 259.5,55.8 260.6,62.9 261.7,72.8 262.8,81.9 263.9,90.5 265,101.4 266.1,112 267.2,124.8 268.3,135.9 269.4,142.9 270.5,150.6 271.6,158.5 272.7,162.4 273.8,165.6 274.9,169.2 276,169.8 277.1,170.7 278.2,170.3 279.3,171.1 280.4,172.2 281.5,171.5 282.6,170.7 283.7,169.6 284.8,170.3 285.9,169.5 287,169 288.1,169.1 289.2,166.1 290.3,166.5 291.4,165.6 292.5,164.1 293.6,163.1 294.7,162.3 295.8,159.7 296.9,159.6 298,163 299.1,157.8 300.2,155.3 301.3,156.3 302.4,147.5 303.5,144.7 304.6,144.6 305.7,148.1 306.8,145.8 307.9,145.4 309,151.8 310.1,152.3 311.2,150.7 312.3,152.2 313.4,152.6 314.5,153.5 315.6,158.4 316.7,161.2 317.8,163.3 318.9,170 320,174.3 321.1,178.9 322.2,180 323.3,180.4 324.4,182.5 325.5,182.9 326.6,185.1 327.7,185.7 328.8,187.4 329.9,187.3 331,188.8 332.1,189.4 333.2,189.3 334.3,189.7 335.4,190 336.5,190 337.6,190.7 338.7,190.6 339.8,190.7 340.9,190.7 342,190.7 343.1,190.7 344.2,190.7 345.3,190.7 346.4,190.7 347.5,190.7 348.6,190.7 349.7,190.7 350.8,190.7 351.9,190.7 353,190.5 354.1,190.7 355.2,190.7 356.3,190.7 357.4,190.7 358.5,190.7" fill="none" stroke="#111" stroke-width="0.95" stroke-linejoin="round"/>
<path d="M195.7,26 V191 H359.5" fill="none" stroke="#222" stroke-width="1"/>
<path d="M195.7,191v3M201.2,191v1.6M206.6,191v1.6M212.1,191v1.6M217.5,191v1.6M223,191v1.6M228.5,191v3M233.9,191v1.6M239.4,191v1.6M244.8,191v1.6M250.3,191v1.6M255.8,191v1.6M261.2,191v3M266.7,191v1.6M272.1,191v1.6M277.6,191v1.6M283.1,191v1.6M288.5,191v1.6M294,191v3M299.4,191v1.6M304.9,191v1.6M310.4,191v1.6M315.8,191v1.6M321.3,191v1.6M326.7,191v3M332.2,191v1.6M337.7,191v1.6M343.1,191v1.6M348.6,191v1.6M354,191v1.6M359.5,191v3" stroke="#222" stroke-width="0.7"/>
<text x="195.7" y="200.3" font-family='"Liberation Sans", sans-serif' font-size="6" text-anchor="middle" fill="#222">0</text>
<text x="228.5" y="200.3" font-family='"Liberation Sans", sans-serif' font-size="6" text-anchor="middle" fill="#222">30</text>
<text x="261.2" y="200.3" font-family='"Liberation Sans", sans-serif' font-size="6" text-anchor="middle" fill="#222">60</text>
<text x="294" y="200.3" font-family='"Liberation Sans", sans-serif' font-size="6" text-anchor="middle" fill="#222">90</text>
<text x="326.7" y="200.3" font-family='"Liberation Sans", sans-serif' font-size="6" text-anchor="middle" fill="#222">120</text>
<text x="359.5" y="200.3" font-family='"Liberation Sans", sans-serif' font-size="6" text-anchor="middle" fill="#222">150</text>
<text x="277.6" y="208.2" font-family='"Liberation Sans", sans-serif' font-size="6.5" text-anchor="middle" fill="#222">Channels (FL2-A)</text>
<text transform="translate(191.7,191) rotate(-90)" font-family='"Liberation Sans", sans-serif' font-size="5.2" text-anchor="middle" fill="#222">0</text>
<text transform="translate(191.7,159.4) rotate(-90)" font-family='"Liberation Sans", sans-serif' font-size="5.2" text-anchor="middle" fill="#222">80</text>
<text transform="translate(191.7,127.8) rotate(-90)" font-family='"Liberation Sans", sans-serif' font-size="5.2" text-anchor="middle" fill="#222">160</text>
<text transform="translate(191.7,96.2) rotate(-90)" font-family='"Liberation Sans", sans-serif' font-size="5.2" text-anchor="middle" fill="#222">240</text>
<text transform="translate(191.7,64.6) rotate(-90)" font-family='"Liberation Sans", sans-serif' font-size="5.2" text-anchor="middle" fill="#222">320</text>
<text transform="translate(191.7,33) rotate(-90)" font-family='"Liberation Sans", sans-serif' font-size="5.2" text-anchor="middle" fill="#222">400</text>
<path d="M195.7,191h-3M195.7,159.4h-3M195.7,127.8h-3M195.7,96.2h-3M195.7,64.6h-3M195.7,33h-3M195.7,191h-1.5M195.7,184.7h-1.5M195.7,178.4h-1.5M195.7,172h-1.5M195.7,165.7h-1.5M195.7,159.4h-1.5M195.7,153.1h-1.5M195.7,146.8h-1.5M195.7,140.4h-1.5M195.7,134.1h-1.5M195.7,127.8h-1.5M195.7,121.5h-1.5M195.7,115.2h-1.5M195.7,108.8h-1.5M195.7,102.5h-1.5M195.7,96.2h-1.5M195.7,89.9h-1.5M195.7,83.6h-1.5M195.7,77.2h-1.5M195.7,70.9h-1.5M195.7,64.6h-1.5M195.7,58.3h-1.5M195.7,52h-1.5M195.7,45.6h-1.5M195.7,39.3h-1.5M195.7,33h-1.5M195.7,26.7h-1.5" stroke="#222" stroke-width="0.6"/>
<text transform="translate(186.5,110) rotate(-90)" font-family='"Liberation Sans", sans-serif' font-size="6" text-anchor="middle" fill="#222">Number</text>
</g>
<g>
<path d="M414.8,191 L414.8,190.9 415.8,190.8 416.8,190.5 417.8,190 418.8,189 419.8,187.3 420.8,184.4 421.8,180 422.8,173.5 423.8,164.4 424.8,152.5 425.8,138 426.8,121.2 427.8,103 428.8,84.9 429.8,68.2 430.8,54.4 431.8,44.7 432.8,39.5 433.8,38.5 434.8,41 435.8,48 436.8,59.5 437.8,74.6 438.8,92.1 439.8,110.4 440.8,128.1 441.8,144.1 442.8,157.6 443.8,168.3 444.8,176.3 445.8,182 446.8,185.7 447.8,188.1 448.8,189.4 449.8,190.2 450.8,190.6 451.8,190.8 452.8,190.9 L452.8,191 Z" fill="#f20c0c" stroke="#200" stroke-width="0.9"/>
<path d="M456.8,191 L456.8,191 457.8,191 458.8,191 459.8,191 460.8,191 461.8,190.9 462.8,190.9 463.8,190.8 464.8,190.8 465.8,190.6 466.8,190.5 467.8,190.2 468.8,189.9 469.8,189.5 470.8,188.9 471.8,188.2 472.8,187.2 473.8,186.1 474.8,184.8 475.8,183.2 476.8,181.4 477.8,179.4 478.8,177.3 479.8,175 480.8,172.8 481.8,170.6 482.8,168.5 483.8,166.6 484.8,165.1 485.8,164 486.8,163.4 487.8,163.2 488.8,163.6 489.8,164.4 490.8,165.7 491.8,167.3 492.8,169.3 493.8,171.4 494.8,173.7 495.8,176 496.8,178.2 497.8,180.2 498.8,182.2 499.8,183.9 500.8,185.3 501.8,186.6 502.8,187.6 503.8,188.5 504.8,189.1 505.8,189.6 506.8,190 507.8,190.3 508.8,190.5 509.8,190.7 510.8,190.8 511.8,190.9 512.8,190.9 513.8,190.9 514.8,191 515.8,191 516.8,191 517.8,191 L517.8,191 Z" fill="#f20c0c" stroke="#200" stroke-width="0.9"/>
<path d="M422.8,191 L422.8,191 423.8,191 424.8,191 425.8,190.9 426.8,190.8 427.8,190.6 428.8,190.3 429.8,189.9 430.8,189.2 431.8,188.3 432.8,187.2 433.8,185.7 434.8,184.1 435.8,182.3 436.8,180.5 437.8,178.8 438.8,177.3 439.8,176 440.8,175 441.8,174.2 442.8,173.7 443.8,173.4 444.8,173.2 445.8,173 446.8,173 447.8,172.9 448.8,172.9 449.8,172.9 450.8,172.9 451.8,172.9 452.8,172.9 453.8,172.9 454.8,172.9 455.8,172.9 456.8,172.9 457.8,172.9 458.8,172.9 459.8,172.9 460.8,172.9 461.8,172.9 462.8,172.9 463.8,172.9 464.8,172.9 465.8,172.9 466.8,172.9 467.8,172.9 468.8,172.9 469.8,172.9 470.8,172.9 471.8,173 472.8,173 473.8,173.1 474.8,173.2 475.8,173.3 476.8,173.4 477.8,173.7 478.8,174 479.8,174.3 480.8,174.8 481.8,175.3 482.8,176 483.8,176.7 484.8,177.6 485.8,178.5 486.8,179.6 487.8,180.6 488.8,181.7 489.8,182.8 490.8,183.9 491.8,185 492.8,185.9 493.8,186.8 494.8,187.6 495.8,188.3 496.8,188.9 497.8,189.4 498.8,189.8 499.8,190.1 500.8,190.4 501.8,190.6 502.8,190.7 503.8,190.8 504.8,190.9 505.8,190.9 506.8,190.9 507.8,191 508.8,191 509.8,191 510.8,191 L510.8,191 Z" fill="#fff" fill-opacity="0.22"/>
<clipPath id="cs3"><path d="M422.8,191 L422.8,191 423.8,191 424.8,191 425.8,190.9 426.8,190.8 427.8,190.6 428.8,190.3 429.8,189.9 430.8,189.2 431.8,188.3 432.8,187.2 433.8,185.7 434.8,184.1 435.8,182.3 436.8,180.5 437.8,178.8 438.8,177.3 439.8,176 440.8,175 441.8,174.2 442.8,173.7 443.8,173.4 444.8,173.2 445.8,173 446.8,173 447.8,172.9 448.8,172.9 449.8,172.9 450.8,172.9 451.8,172.9 452.8,172.9 453.8,172.9 454.8,172.9 455.8,172.9 456.8,172.9 457.8,172.9 458.8,172.9 459.8,172.9 460.8,172.9 461.8,172.9 462.8,172.9 463.8,172.9 464.8,172.9 465.8,172.9 466.8,172.9 467.8,172.9 468.8,172.9 469.8,172.9 470.8,172.9 471.8,173 472.8,173 473.8,173.1 474.8,173.2 475.8,173.3 476.8,173.4 477.8,173.7 478.8,174 479.8,174.3 480.8,174.8 481.8,175.3 482.8,176 483.8,176.7 484.8,177.6 485.8,178.5 486.8,179.6 487.8,180.6 488.8,181.7 489.8,182.8 490.8,183.9 491.8,185 492.8,185.9 493.8,186.8 494.8,187.6 495.8,188.3 496.8,188.9 497.8,189.4 498.8,189.8 499.8,190.1 500.8,190.4 501.8,190.6 502.8,190.7 503.8,190.8 504.8,190.9 505.8,190.9 506.8,190.9 507.8,191 508.8,191 509.8,191 510.8,191 L510.8,191 Z"/></clipPath>
<path d="M444.8,173.2 445.8,173 446.8,173 447.8,172.9 448.8,172.9 449.8,172.9 450.8,172.9 451.8,172.9 452.8,172.9 453.8,172.9 454.8,172.9 455.8,172.9 456.8,172.9 457.8,172.9 458.8,172.9 459.8,172.9 460.8,172.9 461.8,172.9 462.8,172.9 463.8,172.9 464.8,172.9 465.8,172.9 466.8,172.9 467.8,172.9 468.8,172.9 469.8,172.9 470.8,172.9 471.8,173 472.8,173 473.8,173.1 474.8,173.2 475.8,173.3 476.8,173.4 477.8,173.7 478.8,174 479.8,174.3 L479.8,175 478.8,177.3 477.8,179.4 476.8,181.4 475.8,183.2 474.8,184.8 473.8,186.1 472.8,187.2 471.8,188.2 470.8,188.9 469.8,189.5 468.8,189.9 467.8,190.2 466.8,190.5 465.8,190.6 464.8,190.8 463.8,190.8 462.8,190.9 461.8,190.9 460.8,191 459.8,191 458.8,191 457.8,191 456.8,191 455.8,191 454.8,191 453.8,191 452.8,190.9 451.8,190.8 450.8,190.6 449.8,190.2 448.8,189.4 447.8,188.1 446.8,185.7 445.8,182 444.8,176.3Z" fill="#f4f3fd"/>
<path d="M422.8,191 L422.8,191 423.8,191 424.8,191 425.8,190.9 426.8,190.8 427.8,190.6 428.8,190.3 429.8,189.9 430.8,189.2 431.8,188.3 432.8,187.2 433.8,185.7 434.8,184.1 435.8,182.3 436.8,180.5 437.8,178.8 438.8,177.3 439.8,176 440.8,175 441.8,174.2 442.8,173.7 443.8,173.4 444.8,173.2 445.8,173 446.8,173 447.8,172.9 448.8,172.9 449.8,172.9 450.8,172.9 451.8,172.9 452.8,172.9 453.8,172.9 454.8,172.9 455.8,172.9 456.8,172.9 457.8,172.9 458.8,172.9 459.8,172.9 460.8,172.9 461.8,172.9 462.8,172.9 463.8,172.9 464.8,172.9 465.8,172.9 466.8,172.9 467.8,172.9 468.8,172.9 469.8,172.9 470.8,172.9 471.8,173 472.8,173 473.8,173.1 474.8,173.2 475.8,173.3 476.8,173.4 477.8,173.7 478.8,174 479.8,174.3 480.8,174.8 481.8,175.3 482.8,176 483.8,176.7 484.8,177.6 485.8,178.5 486.8,179.6 487.8,180.6 488.8,181.7 489.8,182.8 490.8,183.9 491.8,185 492.8,185.9 493.8,186.8 494.8,187.6 495.8,188.3 496.8,188.9 497.8,189.4 498.8,189.8 499.8,190.1 500.8,190.4 501.8,190.6 502.8,190.7 503.8,190.8 504.8,190.9 505.8,190.9 506.8,190.9 507.8,191 508.8,191 509.8,191 510.8,191 L510.8,191 Z" fill="url(#hatch)"/>
<path d="M422.8,191 L422.8,191 423.8,191 424.8,191 425.8,190.9 426.8,190.8 427.8,190.6 428.8,190.3 429.8,189.9 430.8,189.2 431.8,188.3 432.8,187.2 433.8,185.7 434.8,184.1 435.8,182.3 436.8,180.5 437.8,178.8 438.8,177.3 439.8,176 440.8,175 441.8,174.2 442.8,173.7 443.8,173.4 444.8,176.3 445.8,182 446.8,185.7 447.8,188.1 448.8,189.4 449.8,190.2 450.8,190.6 451.8,190.8 452.8,190.9 453.8,191 454.8,191 455.8,191 456.8,191 457.8,191 458.8,191 459.8,191 460.8,191 461.8,190.9 462.8,190.9 463.8,190.8 464.8,190.8 465.8,190.6 466.8,190.5 467.8,190.2 468.8,189.9 469.8,189.5 470.8,188.9 471.8,188.2 472.8,187.2 473.8,186.1 474.8,184.8 475.8,183.2 476.8,181.4 477.8,179.4 478.8,177.3 479.8,175 480.8,174.8 481.8,175.3 482.8,176 483.8,176.7 484.8,177.6 485.8,178.5 486.8,179.6 487.8,180.6 488.8,181.7 489.8,182.8 490.8,183.9 491.8,185 492.8,185.9 493.8,186.8 494.8,187.6 495.8,188.3 496.8,188.9 497.8,189.4 498.8,189.8 499.8,190.1 500.8,190.4 501.8,190.6 502.8,190.7 503.8,190.8 504.8,190.9 505.8,190.9 506.8,190.9 507.8,191 508.8,191 509.8,191 510.8,191 L510.8,191 Z" fill="#d4082a"/>
<path d="M422.8,191 L422.8,191 423.8,191 424.8,191 425.8,190.9 426.8,190.8 427.8,190.6 428.8,190.3 429.8,189.9 430.8,189.2 431.8,188.3 432.8,187.2 433.8,185.7 434.8,184.1 435.8,182.3 436.8,180.5 437.8,178.8 438.8,177.3 439.8,176 440.8,175 441.8,174.2 442.8,173.7 443.8,173.4 444.8,176.3 445.8,182 446.8,185.7 447.8,188.1 448.8,189.4 449.8,190.2 450.8,190.6 451.8,190.8 452.8,190.9 453.8,191 454.8,191 455.8,191 456.8,191 457.8,191 458.8,191 459.8,191 460.8,191 461.8,190.9 462.8,190.9 463.8,190.8 464.8,190.8 465.8,190.6 466.8,190.5 467.8,190.2 468.8,189.9 469.8,189.5 470.8,188.9 471.8,188.2 472.8,187.2 473.8,186.1 474.8,184.8 475.8,183.2 476.8,181.4 477.8,179.4 478.8,177.3 479.8,175 480.8,174.8 481.8,175.3 482.8,176 483.8,176.7 484.8,177.6 485.8,178.5 486.8,179.6 487.8,180.6 488.8,181.7 489.8,182.8 490.8,183.9 491.8,185 492.8,185.9 493.8,186.8 494.8,187.6 495.8,188.3 496.8,188.9 497.8,189.4 498.8,189.8 499.8,190.1 500.8,190.4 501.8,190.6 502.8,190.7 503.8,190.8 504.8,190.9 505.8,190.9 506.8,190.9 507.8,191 508.8,191 509.8,191 510.8,191 L510.8,191 Z" fill="url(#hatchR)" stroke="#300" stroke-width="0.5"/>
<path d="M422.8,191 L422.8,191 423.8,191 424.8,191 425.8,190.9 426.8,190.8 427.8,190.6 428.8,190.3 429.8,189.9 430.8,189.2 431.8,188.3 432.8,187.2 433.8,185.7 434.8,184.1 435.8,182.3 436.8,180.5 437.8,178.8 438.8,177.3 439.8,176 440.8,175 441.8,174.2 442.8,173.7 443.8,173.4 444.8,173.2 445.8,173 446.8,173 447.8,172.9 448.8,172.9 449.8,172.9 450.8,172.9 451.8,172.9 452.8,172.9 453.8,172.9 454.8,172.9 455.8,172.9 456.8,172.9 457.8,172.9 458.8,172.9 459.8,172.9 460.8,172.9 461.8,172.9 462.8,172.9 463.8,172.9 464.8,172.9 465.8,172.9 466.8,172.9 467.8,172.9 468.8,172.9 469.8,172.9 470.8,172.9 471.8,173 472.8,173 473.8,173.1 474.8,173.2 475.8,173.3 476.8,173.4 477.8,173.7 478.8,174 479.8,174.3 480.8,174.8 481.8,175.3 482.8,176 483.8,176.7 484.8,177.6 485.8,178.5 486.8,179.6 487.8,180.6 488.8,181.7 489.8,182.8 490.8,183.9 491.8,185 492.8,185.9 493.8,186.8 494.8,187.6 495.8,188.3 496.8,188.9 497.8,189.4 498.8,189.8 499.8,190.1 500.8,190.4 501.8,190.6 502.8,190.7 503.8,190.8 504.8,190.9 505.8,190.9 506.8,190.9 507.8,191 508.8,191 509.8,191 510.8,191 L510.8,191 Z" fill="none" stroke="#111" stroke-width="1"/>
<path d="M372.8,191 373.8,191 374.8,191 375.8,191 376.8,191 377.8,191 378.8,191 379.8,191 380.8,191 381.8,191 382.8,191 383.8,191 384.8,191 385.8,191 386.8,191 387.8,191 388.8,191 389.8,191 390.8,191 391.8,191 392.8,191 393.8,191 394.8,191 395.8,191 396.8,191 397.8,191 398.8,191 399.8,191 400.8,191 401.8,191 402.8,191 403.8,191 404.8,191 405.8,191 406.8,191 407.8,191 408.8,191 409.8,191 410.8,191 411.8,191 412.8,191 413.8,191 414.8,190.9 415.8,190.8 416.8,190.5 417.8,190 418.8,189 419.8,187.3 420.8,184.4 421.8,180 422.8,173.4 423.8,164.4 424.8,152.5 425.8,137.9 426.8,121.1 427.8,102.9 428.8,84.6 429.8,67.8 430.8,54 431.8,44.2 432.8,38.9 433.8,37.7 434.8,39.8 435.8,46.2 436.8,56.6 437.8,70.2 438.8,85.9 439.8,102.2 440.8,118 441.8,132.1 442.8,144.1 443.8,153.5 444.8,160.5 445.8,165.4 446.8,168.6 447.8,170.6 448.8,171.7 449.8,172.3 450.8,172.7 451.8,172.8 452.8,172.9 453.8,172.9 454.8,172.9 455.8,172.9 456.8,172.9 457.8,172.9 458.8,172.9 459.8,172.9 460.8,172.9 461.8,172.8 462.8,172.8 463.8,172.7 464.8,172.7 465.8,172.5 466.8,172.4 467.8,172.1 468.8,171.8 469.8,171.4 470.8,170.8 471.8,170.1 472.8,169.3 473.8,168.2 474.8,166.9 475.8,165.5 476.8,163.9 477.8,162.1 478.8,160.2 479.8,158.4 480.8,156.5 481.8,154.9 482.8,153.5 483.8,152.4 484.8,151.7 485.8,151.5 486.8,151.9 487.8,152.8 488.8,154.3 489.8,156.2 490.8,158.6 491.8,161.3 492.8,164.2 493.8,167.3 494.8,170.3 495.8,173.3 496.8,176.1 497.8,178.7 498.8,181 499.8,183 500.8,184.7 501.8,186.1 502.8,187.3 503.8,188.3 504.8,189 505.8,189.6 506.8,190 507.8,190.3 508.8,190.5 509.8,190.7 510.8,190.8 511.8,190.9 512.8,190.9 513.8,190.9 514.8,191 515.8,191 516.8,191 517.8,191 518.8,191 519.8,191 520.8,191 521.8,191 522.8,191 523.8,191 524.8,191 525.8,191 526.8,191 527.8,191 528.8,191 529.8,191 530.8,191 531.8,191 532.8,191 533.8,191 534.8,191 535.8,191 536.8,191 537.8,191" fill="none" stroke="#111" stroke-width="1.05"/>
<path d="M372.8,190.7 373.9,190.7 375,190.7 376.1,190.7 377.2,190.7 378.3,190.7 379.4,190.7 380.5,190.7 381.6,190.7 382.7,190.7 383.8,190.7 384.9,190.7 386,190.7 387.1,190.7 388.2,190.7 389.3,190.7 390.4,190.7 391.5,190.7 392.6,190.7 393.7,190.7 394.8,190.7 395.9,190.7 397,190.7 398.1,190.7 399.2,190.7 400.3,190.7 401.4,190.7 402.5,190.7 403.6,190.4 404.7,190.5 405.8,190.7 406.9,190.7 408,190.6 409.1,190.7 410.2,190.7 411.3,190.7 412.4,190.7 413.5,190.7 414.6,190.5 415.7,190.6 416.8,190.5 417.9,189.5 419,188.5 420.1,186.2 421.2,181.5 422.3,176.1 423.4,168 424.5,157.2 425.6,141 426.7,122.2 427.8,101.5 428.9,80.4 430,60.5 431.1,44.2 432.2,33 433.3,27.7 434.4,28.7 435.5,34.2 436.6,42.6 437.7,51.9 438.8,63.9 439.9,75.4 441,88.6 442.1,103.7 443.2,121.9 444.3,136.2 445.4,148.1 446.5,157.8 447.6,163.7 448.7,167.9 449.8,171.4 450.9,172.4 452,173.5 453.1,171.1 454.2,172.4 455.3,173.3 456.4,174.6 457.5,173.5 458.6,172.7 459.7,172.7 460.8,174.2 461.9,174.4 463,174.5 464.1,173.1 465.2,173.6 466.3,172.9 467.4,170.2 468.5,173.1 469.6,172 470.7,170.8 471.8,171.5 472.9,167.5 474,166.6 475.1,163.8 476.2,160.6 477.3,155.6 478.4,155.9 479.5,154.1 480.6,153.5 481.7,151.6 482.8,139 483.9,140.5 485,145.7 486.1,138.9 487.2,133.2 488.3,143 489.4,145.7 490.5,153.7 491.6,161 492.7,161.5 493.8,166.9 494.9,171.2 496,173.1 497.1,175.5 498.2,179 499.3,180.3 500.4,183.9 501.5,185.9 502.6,186.5 503.7,186.6 504.8,187.3 505.9,188.5 507,189.6 508.1,190.7 509.2,190.1 510.3,190.6 511.4,190 512.5,190.6 513.6,190.7 514.7,190.7 515.8,190.7 516.9,190.7 518,190.7 519.1,190.7 520.2,190.7 521.3,190.7 522.4,190.7 523.5,190.7 524.6,190.7 525.7,190.7 526.8,190.7 527.9,190.7 529,190.7 530.1,190.7 531.2,190.7 532.3,190.7 533.4,190.5 534.5,190.7 535.6,190.7 536.7,190.7 537.8,190.7" fill="none" stroke="#111" stroke-width="0.95" stroke-linejoin="round"/>
<path d="M372.8,27 V191 H538.7" fill="none" stroke="#222" stroke-width="1"/>
<path d="M372.8,191v3M378.3,191v1.6M383.9,191v1.6M389.4,191v1.6M394.9,191v1.6M400.5,191v1.6M406,191v3M411.5,191v1.6M417,191v1.6M422.6,191v1.6M428.1,191v1.6M433.6,191v1.6M439.2,191v3M444.7,191v1.6M450.2,191v1.6M455.8,191v1.6M461.3,191v1.6M466.8,191v1.6M472.3,191v3M477.9,191v1.6M483.4,191v1.6M488.9,191v1.6M494.5,191v1.6M500,191v1.6M505.5,191v3M511.1,191v1.6M516.6,191v1.6M522.1,191v1.6M527.6,191v1.6M533.2,191v1.6M538.7,191v3" stroke="#222" stroke-width="0.7"/>
<text x="372.8" y="200.3" font-family='"Liberation Sans", sans-serif' font-size="6" text-anchor="middle" fill="#222">0</text>
<text x="406" y="200.3" font-family='"Liberation Sans", sans-serif' font-size="6" text-anchor="middle" fill="#222">30</text>
<text x="439.2" y="200.3" font-family='"Liberation Sans", sans-serif' font-size="6" text-anchor="middle" fill="#222">60</text>
<text x="472.3" y="200.3" font-family='"Liberation Sans", sans-serif' font-size="6" text-anchor="middle" fill="#222">90</text>
<text x="505.5" y="200.3" font-family='"Liberation Sans", sans-serif' font-size="6" text-anchor="middle" fill="#222">120</text>
<text x="538.7" y="200.3" font-family='"Liberation Sans", sans-serif' font-size="6" text-anchor="middle" fill="#222">150</text>
<text x="455.8" y="208.2" font-family='"Liberation Sans", sans-serif' font-size="6.5" text-anchor="middle" fill="#222">Channels (FL2-A)</text>
<text transform="translate(368.8,191) rotate(-90)" font-family='"Liberation Sans", sans-serif' font-size="5.2" text-anchor="middle" fill="#222">0</text>
<text transform="translate(368.8,158.3) rotate(-90)" font-family='"Liberation Sans", sans-serif' font-size="5.2" text-anchor="middle" fill="#222">200</text>
<text transform="translate(368.8,125.6) rotate(-90)" font-family='"Liberation Sans", sans-serif' font-size="5.2" text-anchor="middle" fill="#222">400</text>
<text transform="translate(368.8,92.7) rotate(-90)" font-family='"Liberation Sans", sans-serif' font-size="5.2" text-anchor="middle" fill="#222">600</text>
<text transform="translate(368.8,59.8) rotate(-90)" font-family='"Liberation Sans", sans-serif' font-size="5.2" text-anchor="middle" fill="#222">800</text>
<path d="M372.8,191h-3M372.8,158.3h-3M372.8,125.6h-3M372.8,92.7h-3M372.8,59.8h-3M372.8,191h-1.5M372.8,184.5h-1.5M372.8,177.9h-1.5M372.8,171.4h-1.5M372.8,164.8h-1.5M372.8,158.3h-1.5M372.8,151.8h-1.5M372.8,145.2h-1.5M372.8,138.7h-1.5M372.8,132.1h-1.5M372.8,125.6h-1.5M372.8,119.1h-1.5M372.8,112.5h-1.5M372.8,106h-1.5M372.8,99.4h-1.5M372.8,92.9h-1.5M372.8,86.4h-1.5M372.8,79.8h-1.5M372.8,73.3h-1.5M372.8,66.7h-1.5M372.8,60.2h-1.5M372.8,53.7h-1.5M372.8,47.1h-1.5M372.8,40.6h-1.5M372.8,34h-1.5M372.8,27.5h-1.5" stroke="#222" stroke-width="0.6"/>
<text transform="translate(363.7,110.5) rotate(-90)" font-family='"Liberation Sans", sans-serif' font-size="6" text-anchor="middle" fill="#222">Number</text>
</g>
<g>
<path d="M594.8,191 L594.8,190.9 595.8,190.8 596.8,190.6 597.8,190.1 598.8,189.1 599.8,187.3 600.8,184.3 601.8,179.5 602.8,172.5 603.8,162.7 604.8,150.1 605.8,135 606.8,118.3 607.8,101.2 608.8,85.3 609.8,72.3 610.8,63.3 611.8,58.9 612.8,58.5 613.8,62 614.8,70.1 615.8,82.4 616.8,97.8 617.8,114.8 618.8,131.8 619.8,147.3 620.8,160.4 621.8,170.7 622.8,178.3 623.8,183.5 624.8,186.8 625.8,188.8 626.8,189.9 627.8,190.5 628.8,190.8 629.8,190.9 L629.8,191 Z" fill="#f20c0c" stroke="#200" stroke-width="0.9"/>
<path d="M632.8,191 L632.8,191 633.8,191 634.8,191 635.8,190.9 636.8,190.9 637.8,190.9 638.8,190.8 639.8,190.7 640.8,190.6 641.8,190.4 642.8,190.2 643.8,189.9 644.8,189.4 645.8,188.8 646.8,188.1 647.8,187.1 648.8,185.9 649.8,184.4 650.8,182.5 651.8,180.2 652.8,177.6 653.8,174.4 654.8,170.8 655.8,166.6 656.8,162 657.8,157 658.8,151.6 659.8,145.9 660.8,140 661.8,134.1 662.8,128.3 663.8,122.7 664.8,117.7 665.8,113.2 666.8,109.4 667.8,106.6 668.8,104.8 669.8,104 670.8,104.4 671.8,105.8 672.8,108.2 673.8,111.6 674.8,115.8 675.8,120.6 676.8,126 677.8,131.7 678.8,137.6 679.8,143.6 680.8,149.3 681.8,154.9 682.8,160.1 683.8,164.9 684.8,169.2 685.8,173 686.8,176.4 687.8,179.2 688.8,181.7 689.8,183.7 690.8,185.3 691.8,186.7 692.8,187.7 693.8,188.6 694.8,189.2 695.8,189.7 696.8,190.1 697.8,190.3 698.8,190.5 699.8,190.7 700.8,190.8 701.8,190.9 702.8,190.9 703.8,190.9 704.8,191 705.8,191 706.8,191 L706.8,191 Z" fill="#f20c0c" stroke="#200" stroke-width="0.9"/>
<path d="M596.8,191 L596.8,191 597.8,191 598.8,191 599.8,190.9 600.8,190.9 601.8,190.7 602.8,190.5 603.8,190.2 604.8,189.6 605.8,188.9 606.8,187.8 607.8,186.4 608.8,184.6 609.8,182.4 610.8,180 611.8,177.3 612.8,174.6 613.8,171.9 614.8,169.3 615.8,167 616.8,165.1 617.8,163.5 618.8,162.3 619.8,161.4 620.8,160.8 621.8,160.4 622.8,160.1 623.8,160 624.8,159.9 625.8,159.8 626.8,159.8 627.8,159.8 628.8,159.8 629.8,159.8 630.8,159.8 631.8,159.8 632.8,159.8 633.8,159.8 634.8,159.8 635.8,159.8 636.8,159.8 637.8,159.8 638.8,159.8 639.8,159.8 640.8,159.8 641.8,159.8 642.8,159.8 643.8,159.8 644.8,159.8 645.8,159.8 646.8,159.8 647.8,159.8 648.8,159.8 649.8,159.9 650.8,159.9 651.8,159.9 652.8,160 653.8,160 654.8,160.1 655.8,160.2 656.8,160.3 657.8,160.5 658.8,160.7 659.8,160.9 660.8,161.2 661.8,161.6 662.8,162 663.8,162.5 664.8,163.1 665.8,163.8 666.8,164.6 667.8,165.5 668.8,166.4 669.8,167.5 670.8,168.6 671.8,169.8 672.8,171.1 673.8,172.4 674.8,173.7 675.8,175.1 676.8,176.5 677.8,177.9 678.8,179.2 679.8,180.5 680.8,181.7 681.8,182.9 682.8,184 683.8,185 684.8,185.9 685.8,186.7 686.8,187.4 687.8,188 688.8,188.6 689.8,189 690.8,189.4 691.8,189.8 692.8,190 693.8,190.3 694.8,190.4 695.8,190.6 696.8,190.7 697.8,190.8 698.8,190.8 699.8,190.9 700.8,190.9 701.8,190.9 702.8,191 703.8,191 704.8,191 705.8,191 706.8,191 L706.8,191 Z" fill="#fff" fill-opacity="0.22"/>
<clipPath id="cs4"><path d="M596.8,191 L596.8,191 597.8,191 598.8,191 599.8,190.9 600.8,190.9 601.8,190.7 602.8,190.5 603.8,190.2 604.8,189.6 605.8,188.9 606.8,187.8 607.8,186.4 608.8,184.6 609.8,182.4 610.8,180 611.8,177.3 612.8,174.6 613.8,171.9 614.8,169.3 615.8,167 616.8,165.1 617.8,163.5 618.8,162.3 619.8,161.4 620.8,160.8 621.8,160.4 622.8,160.1 623.8,160 624.8,159.9 625.8,159.8 626.8,159.8 627.8,159.8 628.8,159.8 629.8,159.8 630.8,159.8 631.8,159.8 632.8,159.8 633.8,159.8 634.8,159.8 635.8,159.8 636.8,159.8 637.8,159.8 638.8,159.8 639.8,159.8 640.8,159.8 641.8,159.8 642.8,159.8 643.8,159.8 644.8,159.8 645.8,159.8 646.8,159.8 647.8,159.8 648.8,159.8 649.8,159.9 650.8,159.9 651.8,159.9 652.8,160 653.8,160 654.8,160.1 655.8,160.2 656.8,160.3 657.8,160.5 658.8,160.7 659.8,160.9 660.8,161.2 661.8,161.6 662.8,162 663.8,162.5 664.8,163.1 665.8,163.8 666.8,164.6 667.8,165.5 668.8,166.4 669.8,167.5 670.8,168.6 671.8,169.8 672.8,171.1 673.8,172.4 674.8,173.7 675.8,175.1 676.8,176.5 677.8,177.9 678.8,179.2 679.8,180.5 680.8,181.7 681.8,182.9 682.8,184 683.8,185 684.8,185.9 685.8,186.7 686.8,187.4 687.8,188 688.8,188.6 689.8,189 690.8,189.4 691.8,189.8 692.8,190 693.8,190.3 694.8,190.4 695.8,190.6 696.8,190.7 697.8,190.8 698.8,190.8 699.8,190.9 700.8,190.9 701.8,190.9 702.8,191 703.8,191 704.8,191 705.8,191 706.8,191 L706.8,191 Z"/></clipPath>
<path d="M621.8,160.4 622.8,160.1 623.8,160 624.8,159.9 625.8,159.8 626.8,159.8 627.8,159.8 628.8,159.8 629.8,159.8 630.8,159.8 631.8,159.8 632.8,159.8 633.8,159.8 634.8,159.8 635.8,159.8 636.8,159.8 637.8,159.8 638.8,159.8 639.8,159.8 640.8,159.8 641.8,159.8 642.8,159.8 643.8,159.8 644.8,159.8 645.8,159.8 646.8,159.8 647.8,159.8 648.8,159.8 649.8,159.9 650.8,159.9 651.8,159.9 652.8,160 653.8,160 654.8,160.1 655.8,160.2 656.8,160.3 L656.8,162 655.8,166.6 654.8,170.8 653.8,174.4 652.8,177.6 651.8,180.2 650.8,182.5 649.8,184.4 648.8,185.9 647.8,187.1 646.8,188.1 645.8,188.8 644.8,189.4 643.8,189.9 642.8,190.2 641.8,190.4 640.8,190.6 639.8,190.7 638.8,190.8 637.8,190.9 636.8,190.9 635.8,190.9 634.8,191 633.8,191 632.8,191 631.8,191 630.8,191 629.8,190.9 628.8,190.8 627.8,190.5 626.8,189.9 625.8,188.8 624.8,186.8 623.8,183.5 622.8,178.3 621.8,170.7Z" fill="#f4f3fd"/>
<path d="M596.8,191 L596.8,191 597.8,191 598.8,191 599.8,190.9 600.8,190.9 601.8,190.7 602.8,190.5 603.8,190.2 604.8,189.6 605.8,188.9 606.8,187.8 607.8,186.4 608.8,184.6 609.8,182.4 610.8,180 611.8,177.3 612.8,174.6 613.8,171.9 614.8,169.3 615.8,167 616.8,165.1 617.8,163.5 618.8,162.3 619.8,161.4 620.8,160.8 621.8,160.4 622.8,160.1 623.8,160 624.8,159.9 625.8,159.8 626.8,159.8 627.8,159.8 628.8,159.8 629.8,159.8 630.8,159.8 631.8,159.8 632.8,159.8 633.8,159.8 634.8,159.8 635.8,159.8 636.8,159.8 637.8,159.8 638.8,159.8 639.8,159.8 640.8,159.8 641.8,159.8 642.8,159.8 643.8,159.8 644.8,159.8 645.8,159.8 646.8,159.8 647.8,159.8 648.8,159.8 649.8,159.9 650.8,159.9 651.8,159.9 652.8,160 653.8,160 654.8,160.1 655.8,160.2 656.8,160.3 657.8,160.5 658.8,160.7 659.8,160.9 660.8,161.2 661.8,161.6 662.8,162 663.8,162.5 664.8,163.1 665.8,163.8 666.8,164.6 667.8,165.5 668.8,166.4 669.8,167.5 670.8,168.6 671.8,169.8 672.8,171.1 673.8,172.4 674.8,173.7 675.8,175.1 676.8,176.5 677.8,177.9 678.8,179.2 679.8,180.5 680.8,181.7 681.8,182.9 682.8,184 683.8,185 684.8,185.9 685.8,186.7 686.8,187.4 687.8,188 688.8,188.6 689.8,189 690.8,189.4 691.8,189.8 692.8,190 693.8,190.3 694.8,190.4 695.8,190.6 696.8,190.7 697.8,190.8 698.8,190.8 699.8,190.9 700.8,190.9 701.8,190.9 702.8,191 703.8,191 704.8,191 705.8,191 706.8,191 L706.8,191 Z" fill="url(#hatch)"/>
<path d="M596.8,191 L596.8,191 597.8,191 598.8,191 599.8,190.9 600.8,190.9 601.8,190.7 602.8,190.5 603.8,190.2 604.8,189.6 605.8,188.9 606.8,187.8 607.8,186.4 608.8,184.6 609.8,182.4 610.8,180 611.8,177.3 612.8,174.6 613.8,171.9 614.8,169.3 615.8,167 616.8,165.1 617.8,163.5 618.8,162.3 619.8,161.4 620.8,160.8 621.8,170.7 622.8,178.3 623.8,183.5 624.8,186.8 625.8,188.8 626.8,189.9 627.8,190.5 628.8,190.8 629.8,190.9 630.8,191 631.8,191 632.8,191 633.8,191 634.8,191 635.8,190.9 636.8,190.9 637.8,190.9 638.8,190.8 639.8,190.7 640.8,190.6 641.8,190.4 642.8,190.2 643.8,189.9 644.8,189.4 645.8,188.8 646.8,188.1 647.8,187.1 648.8,185.9 649.8,184.4 650.8,182.5 651.8,180.2 652.8,177.6 653.8,174.4 654.8,170.8 655.8,166.6 656.8,162 657.8,160.5 658.8,160.7 659.8,160.9 660.8,161.2 661.8,161.6 662.8,162 663.8,162.5 664.8,163.1 665.8,163.8 666.8,164.6 667.8,165.5 668.8,166.4 669.8,167.5 670.8,168.6 671.8,169.8 672.8,171.1 673.8,172.4 674.8,173.7 675.8,175.1 676.8,176.5 677.8,177.9 678.8,179.2 679.8,180.5 680.8,181.7 681.8,182.9 682.8,184 683.8,185 684.8,185.9 685.8,186.7 686.8,187.4 687.8,188 688.8,188.6 689.8,189 690.8,189.4 691.8,189.8 692.8,190 693.8,190.3 694.8,190.4 695.8,190.6 696.8,190.7 697.8,190.8 698.8,190.8 699.8,190.9 700.8,190.9 701.8,190.9 702.8,191 703.8,191 704.8,191 705.8,191 706.8,191 L706.8,191 Z" fill="#d4082a"/>
<path d="M596.8,191 L596.8,191 597.8,191 598.8,191 599.8,190.9 600.8,190.9 601.8,190.7 602.8,190.5 603.8,190.2 604.8,189.6 605.8,188.9 606.8,187.8 607.8,186.4 608.8,184.6 609.8,182.4 610.8,180 611.8,177.3 612.8,174.6 613.8,171.9 614.8,169.3 615.8,167 616.8,165.1 617.8,163.5 618.8,162.3 619.8,161.4 620.8,160.8 621.8,170.7 622.8,178.3 623.8,183.5 624.8,186.8 625.8,188.8 626.8,189.9 627.8,190.5 628.8,190.8 629.8,190.9 630.8,191 631.8,191 632.8,191 633.8,191 634.8,191 635.8,190.9 636.8,190.9 637.8,190.9 638.8,190.8 639.8,190.7 640.8,190.6 641.8,190.4 642.8,190.2 643.8,189.9 644.8,189.4 645.8,188.8 646.8,188.1 647.8,187.1 648.8,185.9 649.8,184.4 650.8,182.5 651.8,180.2 652.8,177.6 653.8,174.4 654.8,170.8 655.8,166.6 656.8,162 657.8,160.5 658.8,160.7 659.8,160.9 660.8,161.2 661.8,161.6 662.8,162 663.8,162.5 664.8,163.1 665.8,163.8 666.8,164.6 667.8,165.5 668.8,166.4 669.8,167.5 670.8,168.6 671.8,169.8 672.8,171.1 673.8,172.4 674.8,173.7 675.8,175.1 676.8,176.5 677.8,177.9 678.8,179.2 679.8,180.5 680.8,181.7 681.8,182.9 682.8,184 683.8,185 684.8,185.9 685.8,186.7 686.8,187.4 687.8,188 688.8,188.6 689.8,189 690.8,189.4 691.8,189.8 692.8,190 693.8,190.3 694.8,190.4 695.8,190.6 696.8,190.7 697.8,190.8 698.8,190.8 699.8,190.9 700.8,190.9 701.8,190.9 702.8,191 703.8,191 704.8,191 705.8,191 706.8,191 L706.8,191 Z" fill="url(#hatchR)" stroke="#300" stroke-width="0.5"/>
<path d="M596.8,191 L596.8,191 597.8,191 598.8,191 599.8,190.9 600.8,190.9 601.8,190.7 602.8,190.5 603.8,190.2 604.8,189.6 605.8,188.9 606.8,187.8 607.8,186.4 608.8,184.6 609.8,182.4 610.8,180 611.8,177.3 612.8,174.6 613.8,171.9 614.8,169.3 615.8,167 616.8,165.1 617.8,163.5 618.8,162.3 619.8,161.4 620.8,160.8 621.8,160.4 622.8,160.1 623.8,160 624.8,159.9 625.8,159.8 626.8,159.8 627.8,159.8 628.8,159.8 629.8,159.8 630.8,159.8 631.8,159.8 632.8,159.8 633.8,159.8 634.8,159.8 635.8,159.8 636.8,159.8 637.8,159.8 638.8,159.8 639.8,159.8 640.8,159.8 641.8,159.8 642.8,159.8 643.8,159.8 644.8,159.8 645.8,159.8 646.8,159.8 647.8,159.8 648.8,159.8 649.8,159.9 650.8,159.9 651.8,159.9 652.8,160 653.8,160 654.8,160.1 655.8,160.2 656.8,160.3 657.8,160.5 658.8,160.7 659.8,160.9 660.8,161.2 661.8,161.6 662.8,162 663.8,162.5 664.8,163.1 665.8,163.8 666.8,164.6 667.8,165.5 668.8,166.4 669.8,167.5 670.8,168.6 671.8,169.8 672.8,171.1 673.8,172.4 674.8,173.7 675.8,175.1 676.8,176.5 677.8,177.9 678.8,179.2 679.8,180.5 680.8,181.7 681.8,182.9 682.8,184 683.8,185 684.8,185.9 685.8,186.7 686.8,187.4 687.8,188 688.8,188.6 689.8,189 690.8,189.4 691.8,189.8 692.8,190 693.8,190.3 694.8,190.4 695.8,190.6 696.8,190.7 697.8,190.8 698.8,190.8 699.8,190.9 700.8,190.9 701.8,190.9 702.8,191 703.8,191 704.8,191 705.8,191 706.8,191 L706.8,191 Z" fill="none" stroke="#111" stroke-width="1"/>
<path d="M551.8,191 552.8,191 553.8,191 554.8,191 555.8,191 556.8,191 557.8,191 558.8,191 559.8,191 560.8,191 561.8,191 562.8,191 563.8,191 564.8,191 565.8,191 566.8,191 567.8,191 568.8,191 569.8,191 570.8,191 571.8,191 572.8,191 573.8,191 574.8,191 575.8,191 576.8,191 577.8,191 578.8,191 579.8,191 580.8,191 581.8,191 582.8,191 583.8,191 584.8,191 585.8,191 586.8,191 587.8,191 588.8,191 589.8,191 590.8,191 591.8,191 592.8,191 593.8,191 594.8,190.9 595.8,190.8 596.8,190.6 597.8,190 598.8,189 599.8,187.2 600.8,184.2 601.8,179.3 602.8,172 603.8,162 604.8,149.1 605.8,133.7 606.8,116.6 607.8,99.2 608.8,83.2 609.8,70.1 610.8,61.2 611.8,56.8 612.8,56 613.8,58.6 614.8,65 615.8,74.8 616.8,87.2 617.8,100.8 618.8,114.3 619.8,126.7 620.8,137 621.8,145 622.8,150.9 623.8,154.8 624.8,157.2 625.8,158.5 626.8,159.3 627.8,159.6 628.8,159.7 629.8,159.8 630.8,159.8 631.8,159.8 632.8,159.8 633.8,159.8 634.8,159.8 635.8,159.7 636.8,159.7 637.8,159.7 638.8,159.6 639.8,159.5 640.8,159.4 641.8,159.2 642.8,159 643.8,158.7 644.8,158.2 645.8,157.7 646.8,156.9 647.8,156 648.8,154.7 649.8,153.2 650.8,151.4 651.8,149.2 652.8,146.5 653.8,143.4 654.8,139.9 655.8,135.8 656.8,131.3 657.8,126.5 658.8,121.3 659.8,115.8 660.8,110.2 661.8,104.7 662.8,99.3 663.8,94.3 664.8,89.8 665.8,86 666.8,83 667.8,81.1 668.8,80.2 669.8,80.5 670.8,81.9 671.8,84.6 672.8,88.3 673.8,93 674.8,98.5 675.8,104.8 676.8,111.5 677.8,118.6 678.8,125.8 679.8,133.1 680.8,140.1 681.8,146.8 682.8,153.1 683.8,158.8 684.8,164.1 685.8,168.7 686.8,172.8 687.8,176.3 688.8,179.2 689.8,181.7 690.8,183.8 691.8,185.4 692.8,186.8 693.8,187.8 694.8,188.6 695.8,189.3 696.8,189.7 697.8,190.1 698.8,190.4 699.8,190.6 700.8,190.7 701.8,190.8 702.8,190.9 703.8,190.9 704.8,190.9 705.8,191 706.8,191 707.8,191 708.8,191 709.8,191 710.8,191 711.8,191 712.8,191 713.8,191 714.8,191 715.8,191" fill="none" stroke="#111" stroke-width="1.05"/>
<path d="M551.8,190.7 552.9,190.7 554,190.7 555.1,190.7 556.2,190.7 557.3,190.7 558.4,190.7 559.5,190.7 560.6,190.7 561.7,190.7 562.8,190.5 563.9,190.7 565,190.7 566.1,190.7 567.2,190.7 568.3,189.4 569.4,189 570.5,189.4 571.6,188.7 572.7,187.4 573.8,188.2 574.9,188.2 576,188.6 577.1,188.8 578.2,187.1 579.3,188.1 580.4,187.2 581.5,187.6 582.6,188 583.7,187.6 584.8,188.3 585.9,187.6 587,187.6 588.1,187.7 589.2,188.8 590.3,189.2 591.4,188.1 592.5,187.4 593.6,189.3 594.7,188.4 595.8,188.8 596.9,188.2 598,189.5 599.1,188.2 600.2,185.8 601.3,181.5 602.4,175.8 603.5,166.6 604.6,152.9 605.7,135.8 606.8,116.3 607.9,95.6 609,74.8 610.1,57.8 611.2,46.3 612.3,41.8 613.4,42.4 614.5,47.6 615.6,56.6 616.7,67.1 617.8,76.6 618.9,88.1 620,99.8 621.1,114.5 622.2,127.4 623.3,140.2 624.4,149.2 625.5,154 626.6,157 627.7,157.5 628.8,160.1 629.9,159.1 631,159.1 632.1,159.7 633.2,159.8 634.3,156.5 635.4,158.8 636.5,159.8 637.6,161.5 638.7,159.7 639.8,159 640.9,159.5 642,157.3 643.1,159.5 644.2,159 645.3,156.4 646.4,156.1 647.5,156.7 648.6,155.7 649.7,155.6 650.8,150.9 651.9,147.9 653,146.1 654.1,141.5 655.2,135.7 656.3,132.4 657.4,126.5 658.5,116.6 659.6,115.5 660.7,108.8 661.8,103.6 662.9,90.9 664,85.1 665.1,82.7 666.2,67.7 667.3,77.7 668.4,78.7 669.5,84.7 670.6,89.8 671.7,74.9 672.8,81.9 673.9,95.5 675,101.1 676.1,104.6 677.2,114.2 678.3,125.9 679.4,128.3 680.5,136.7 681.6,146.1 682.7,152.7 683.8,158 684.9,163.5 686,168.5 687.1,173.4 688.2,178.3 689.3,180.1 690.4,183.3 691.5,185.6 692.6,185.7 693.7,186.4 694.8,188.7 695.9,189.9 697,190.2 698.1,190.7 699.2,190.7 700.3,190.7 701.4,190.7 702.5,190.7 703.6,190.6 704.7,190.7 705.8,190.7 706.9,190.7 708,190.6 709.1,190.7 710.2,190.5 711.3,190.7 712.4,190.7 713.5,190.7 714.6,190.4 715.7,190.7" fill="none" stroke="#111" stroke-width="0.95" stroke-linejoin="round"/>
<path d="M551.8,27 V191 H716.4" fill="none" stroke="#222" stroke-width="1"/>
<path d="M551.8,191v3M557.3,191v1.6M562.8,191v1.6M568.3,191v1.6M573.7,191v1.6M579.2,191v1.6M584.7,191v3M590.2,191v1.6M595.7,191v1.6M601.2,191v1.6M606.7,191v1.6M612.2,191v1.6M617.6,191v3M623.1,191v1.6M628.6,191v1.6M634.1,191v1.6M639.6,191v1.6M645.1,191v1.6M650.6,191v3M656,191v1.6M661.5,191v1.6M667,191v1.6M672.5,191v1.6M678,191v1.6M683.5,191v3M689,191v1.6M694.5,191v1.6M699.9,191v1.6M705.4,191v1.6M710.9,191v1.6M716.4,191v3" stroke="#222" stroke-width="0.7"/>
<text x="551.8" y="200.3" font-family='"Liberation Sans", sans-serif' font-size="6" text-anchor="middle" fill="#222">0</text>
<text x="584.7" y="200.3" font-family='"Liberation Sans", sans-serif' font-size="6" text-anchor="middle" fill="#222">30</text>
<text x="617.6" y="200.3" font-family='"Liberation Sans", sans-serif' font-size="6" text-anchor="middle" fill="#222">60</text>
<text x="650.6" y="200.3" font-family='"Liberation Sans", sans-serif' font-size="6" text-anchor="middle" fill="#222">90</text>
<text x="683.5" y="200.3" font-family='"Liberation Sans", sans-serif' font-size="6" text-anchor="middle" fill="#222">120</text>
<text x="716.4" y="200.3" font-family='"Liberation Sans", sans-serif' font-size="6" text-anchor="middle" fill="#222">150</text>
<text x="634.1" y="208.2" font-family='"Liberation Sans", sans-serif' font-size="6.5" text-anchor="middle" fill="#222">Channels (FL2-A)</text>
<text transform="translate(547.8,191) rotate(-90)" font-family='"Liberation Sans", sans-serif' font-size="5.2" text-anchor="middle" fill="#222">0</text>
<text transform="translate(547.8,163.6) rotate(-90)" font-family='"Liberation Sans", sans-serif' font-size="5.2" text-anchor="middle" fill="#222">100</text>
<text transform="translate(547.8,136.2) rotate(-90)" font-family='"Liberation Sans", sans-serif' font-size="5.2" text-anchor="middle" fill="#222">200</text>
<text transform="translate(547.8,108.8) rotate(-90)" font-family='"Liberation Sans", sans-serif' font-size="5.2" text-anchor="middle" fill="#222">300</text>
<text transform="translate(547.8,81.4) rotate(-90)" font-family='"Liberation Sans", sans-serif' font-size="5.2" text-anchor="middle" fill="#222">400</text>
<text transform="translate(547.8,54) rotate(-90)" font-family='"Liberation Sans", sans-serif' font-size="5.2" text-anchor="middle" fill="#222">500</text>
<path d="M551.8,191h-3M551.8,163.6h-3M551.8,136.2h-3M551.8,108.8h-3M551.8,81.4h-3M551.8,54h-3M551.8,191h-1.5M551.8,185.5h-1.5M551.8,180h-1.5M551.8,174.6h-1.5M551.8,169.1h-1.5M551.8,163.6h-1.5M551.8,158.1h-1.5M551.8,152.6h-1.5M551.8,147.2h-1.5M551.8,141.7h-1.5M551.8,136.2h-1.5M551.8,130.7h-1.5M551.8,125.2h-1.5M551.8,119.8h-1.5M551.8,114.3h-1.5M551.8,108.8h-1.5M551.8,103.3h-1.5M551.8,97.8h-1.5M551.8,92.4h-1.5M551.8,86.9h-1.5M551.8,81.4h-1.5M551.8,75.9h-1.5M551.8,70.4h-1.5M551.8,65h-1.5M551.8,59.5h-1.5M551.8,54h-1.5M551.8,48.5h-1.5M551.8,43h-1.5M551.8,37.6h-1.5M551.8,32.1h-1.5" stroke="#222" stroke-width="0.6"/>
<text transform="translate(541.5,110.5) rotate(-90)" font-family='"Liberation Sans", sans-serif' font-size="6" text-anchor="middle" fill="#222">Number</text>
</g>
<path d="M197.8,26V191" stroke="#222" stroke-width="1" fill="none"/>
<rect x="376.5" y="27.5" width="4.2" height="163.5" fill="#fff" stroke="#222" stroke-width="0.9"/>
<rect x="552.2" y="27.3" width="2.9" height="163.7" fill="#fff" stroke="#222" stroke-width="0.9"/>
<text x="11.7" y="15.9" font-family='"Liberation Serif", serif' font-size="15" font-weight="bold" text-anchor="start" >A</text>
<text x="97" y="226.8" font-family='"Liberation Serif", serif' font-size="16.9" font-weight="bold" text-anchor="middle" >Plex-null(24h)</text>
<text x="273.5" y="226.8" font-family='"Liberation Serif", serif' font-size="16.9" font-weight="bold" text-anchor="middle" >Plex-SZRD1(24h)</text>
<text x="447.5" y="226.8" font-family='"Liberation Serif", serif' font-size="16.9" font-weight="bold" text-anchor="middle" >Plex-null(48h)</text>
<text x="618.5" y="226.8" font-family='"Liberation Serif", serif' font-size="16.9" font-weight="bold" text-anchor="middle" >Plex-SZRD1(48h)</text>
<rect x="76.8" y="406.3" width="39.2" height="21.7" fill="#a0a0a0"/>
<rect x="76.8" y="357.7" width="39.2" height="48.7" fill="#fff"/>
<rect x="76.8" y="285.3" width="39.2" height="72.4" fill="#e6e6e6"/>
<path d="M76.8,428V285.3H116V428 M76.8,406.3H116 M76.8,357.7H116" fill="none" stroke="#0a0a0a" stroke-width="2.1"/>
<text x="96.4" y="297.7" font-family='"Liberation Serif", serif' font-size="13.5" font-weight="bold" text-anchor="middle" >50.71</text>
<text x="96.4" y="369.7" font-family='"Liberation Serif", serif' font-size="13.5" font-weight="bold" text-anchor="middle" >34.11</text>
<text x="96.4" y="418.7" font-family='"Liberation Serif", serif' font-size="13.5" font-weight="bold" text-anchor="middle" >15.18</text>
<path d="M96.4,428v4.5" stroke="#111" stroke-width="1.3"/>
<rect x="134.6" y="406.2" width="39" height="21.8" fill="#a0a0a0"/>
<rect x="134.6" y="363.4" width="39" height="42.9" fill="#fff"/>
<rect x="134.6" y="285.3" width="39" height="78.1" fill="#e6e6e6"/>
<path d="M134.6,428V285.3H173.6V428 M134.6,406.2H173.6 M134.6,363.4H173.6" fill="none" stroke="#0a0a0a" stroke-width="2.1"/>
<text x="154.1" y="297.7" font-family='"Liberation Serif", serif' font-size="13.5" font-weight="bold" text-anchor="middle" >54.71</text>
<text x="154.1" y="375.4" font-family='"Liberation Serif", serif' font-size="13.5" font-weight="bold" text-anchor="middle" >30.03</text>
<text x="154.1" y="418.6" font-family='"Liberation Serif", serif' font-size="13.5" font-weight="bold" text-anchor="middle" >15.26</text>
<path d="M154.1,428v4.5" stroke="#111" stroke-width="1.3"/>
<rect x="192.4" y="401.7" width="39.2" height="26.3" fill="#a0a0a0"/>
<rect x="192.4" y="357.1" width="39.2" height="44.6" fill="#fff"/>
<rect x="192.4" y="285.3" width="39.2" height="71.8" fill="#e6e6e6"/>
<path d="M192.4,428V285.3H231.6V428 M192.4,401.7H231.6 M192.4,357.1H231.6" fill="none" stroke="#0a0a0a" stroke-width="2.1"/>
<text x="212" y="297.7" font-family='"Liberation Serif", serif' font-size="13.5" font-weight="bold" text-anchor="middle" >50.29</text>
<text x="212" y="369.1" font-family='"Liberation Serif", serif' font-size="13.5" font-weight="bold" text-anchor="middle" >31.24</text>
<text x="212" y="414.1" font-family='"Liberation Serif", serif' font-size="13.5" font-weight="bold" text-anchor="middle" >18.46</text>
<path d="M212,428v4.5" stroke="#111" stroke-width="1.3"/>
<rect x="250.4" y="374.9" width="39" height="53.1" fill="#a0a0a0"/>
<rect x="250.4" y="325.8" width="39" height="49" fill="#fff"/>
<rect x="250.4" y="285.3" width="39" height="40.5" fill="#e6e6e6"/>
<path d="M250.4,428V285.3H289.4V428 M250.4,374.9H289.4 M250.4,325.8H289.4" fill="none" stroke="#0a0a0a" stroke-width="2.1"/>
<text x="269.9" y="297.7" font-family='"Liberation Serif", serif' font-size="13.5" font-weight="bold" text-anchor="middle" >28.40</text>
<text x="269.9" y="337.8" font-family='"Liberation Serif", serif' font-size="13.5" font-weight="bold" text-anchor="middle" >34.36</text>
<text x="269.9" y="387.3" font-family='"Liberation Serif", serif' font-size="13.5" font-weight="bold" text-anchor="middle" >37.24</text>
<path d="M269.9,428v4.5" stroke="#111" stroke-width="1.3"/>
<path d="M67.6,271V428.6 M62,428H298.8 M62.5,285.3H67.6 M62.5,356.6H67.6" fill="none" stroke="#111" stroke-width="1.4"/>
<text x="62.3" y="432.2" font-family='"Liberation Sans", sans-serif' font-size="11.5" font-weight="bold" text-anchor="end" >0</text>
<text x="62.3" y="360.8" font-family='"Liberation Sans", sans-serif' font-size="11.5" font-weight="bold" text-anchor="end" >50</text>
<text x="62.3" y="289.5" font-family='"Liberation Sans", sans-serif' font-size="11.5" font-weight="bold" text-anchor="end" >100</text>
<text transform="translate(36.4,348.7) rotate(-90)" font-family='"Liberation Serif", serif' font-size="15.1" font-weight="bold" text-anchor="middle">Percentage cells in cell cycle phases</text>
<text transform="translate(103.4,446) rotate(-45)" font-family='"Liberation Serif", serif' font-size="14.9" font-weight="bold" text-anchor="end">null-24h</text>
<text transform="translate(161.1,446) rotate(-45)" font-family='"Liberation Serif", serif' font-size="14.9" font-weight="bold" text-anchor="end">SZRD1-24h</text>
<text transform="translate(219,446) rotate(-45)" font-family='"Liberation Serif", serif' font-size="14.9" font-weight="bold" text-anchor="end">null-48h</text>
<text transform="translate(276.9,446) rotate(-45)" font-family='"Liberation Serif", serif' font-size="14.9" font-weight="bold" text-anchor="end">SZRD1-48h</text>
<rect x="301.1" y="281.5" width="15.8" height="10.4" fill="#e6e6e6" stroke="#0a0a0a" stroke-width="1.9"/>
<text x="326.2" y="291.3" font-family='"Liberation Serif", serif' font-size="15" font-weight="normal" text-anchor="start" >G1</text>
<rect x="301.1" y="295.4" width="15.8" height="10.4" fill="#fff" stroke="#0a0a0a" stroke-width="1.9"/>
<text x="326.2" y="305.2" font-family='"Liberation Serif", serif' font-size="15" font-weight="normal" text-anchor="start" >S</text>
<rect x="301.1" y="309.7" width="15.8" height="10.4" fill="#a0a0a0" stroke="#0a0a0a" stroke-width="1.9"/>
<text x="326.2" y="319.5" font-family='"Liberation Serif", serif' font-size="15" font-weight="normal" text-anchor="start" >G2</text>
<text x="375.5" y="274.1" font-family='"Liberation Serif", serif' font-size="15" font-weight="bold" text-anchor="start" >B</text>
<rect x="510.5" y="302.3" width="91.5" height="20.5" fill="#050505"/>
<rect x="510.5" y="329" width="91.5" height="11.8" fill="#050505"/>
<rect x="518" y="311.2" width="33.5" height="2.7" rx="1.3" fill="#ececec" filter="url(#b0)"/>
<rect x="518" y="332.9" width="35" height="3.3" rx="1.5" fill="#f0f0f0" filter="url(#b0)"/>
<rect x="558" y="332.9" width="35.7" height="3.3" rx="1.5" fill="#f0f0f0" filter="url(#b0)"/>
<text x="505.3" y="313.1" font-family='"Liberation Serif", serif' font-size="13.2" font-weight="bold" text-anchor="end" >SZRD1</text>
<text x="505.3" y="338.6" font-family='"Liberation Serif", serif' font-size="13.2" font-weight="bold" text-anchor="end" >GAPDH</text>
<text transform="translate(532.2,297.7) rotate(-44)" font-family='"Liberation Serif", serif' font-size="12.9" font-weight="bold">si-NC</text>
<text transform="translate(575.6,297.7) rotate(-52.5)" font-family='"Liberation Serif", serif' font-size="12.7" font-weight="bold">Si-SZRD1</text>
<text x="376.2" y="370.9" font-family='"Liberation Serif", serif' font-size="15.6" font-weight="bold" text-anchor="start" >C</text>
<text x="400.6" y="391.5" font-family='"Liberation Serif", serif' font-size="12.7" font-weight="bold" text-anchor="start" >Plex-null</text>
<text x="468.9" y="391" font-family='"Liberation Serif", serif' font-size="12.8" font-weight="bold" text-anchor="start" >Plex-SZRD1</text>
<text x="572.1" y="391" font-family='"Liberation Serif", serif' font-size="12.8" font-weight="bold" text-anchor="start" >si-NC</text>
<text x="636.2" y="391" font-family='"Liberation Serif", serif' font-size="12.8" font-weight="bold" text-anchor="start" >si-SZRD1</text>
<text x="391.2" y="408.9" font-family='"Liberation Serif", serif' font-size="12.9" font-weight="bold" text-anchor="end" >P21</text>
<text x="390.7" y="434.7" font-family='"Liberation Serif", serif' font-size="12.9" font-weight="bold" text-anchor="end" >SZRD1</text>
<text x="390.7" y="454.8" font-family='"Liberation Serif", serif' font-size="12.9" font-weight="bold" text-anchor="end" >ACTIN</text>
<rect x="556" y="398" width="150" height="58" fill="#f6f6f6" filter="url(#b3)"/>
<path d="M402,402.1 Q404.5,399 411.9,399.4 L441.6,400.8 Q449,401.2 451.5,404.3 Q449,407.4 441.6,407 L411.9,405.6 Q404.5,405.2 402,402.1 Z" fill="#3a3a3a" opacity="0.95" filter="url(#b1)"/>
<path d="M479.5,404.3 Q481.4,399.1 487.1,399.1 L522.9,399.1 Q528.6,399.1 530.5,404.3 Q528.6,409.6 522.9,409.6 L487.1,409.6 Q481.4,409.6 479.5,404.3 Z" fill="#141414" opacity="1" filter="url(#b1)"/>
<path d="M562,403 Q564.2,398.2 570.7,398.2 L582.3,398.2 Q588.8,398.2 591,403 Q588.8,407.8 582.3,407.8 L570.7,407.8 Q564.2,407.8 562,403 Z" fill="#080808" opacity="1" filter="url(#b1)"/>
<path d="M585,403 Q587.2,398.2 593.7,398.2 L605.3,398.2 Q611.8,398.2 614,403 Q611.8,407.8 605.3,407.8 L593.7,407.8 Q587.2,407.8 585,403 Z" fill="#080808" opacity="1" filter="url(#b1)"/>
<path d="M570,403.5 Q571.8,400.2 577.2,400.2 L598.8,400.2 Q604.2,400.2 606,403.5 Q604.2,406.8 598.8,406.8 L577.2,406.8 Q571.8,406.8 570,403.5 Z" fill="#080808" opacity="1" filter="url(#b1)"/>
<path d="M640.6,403.2 Q642.4,399.6 647.6,399.6 L657,399.6 Q662.2,399.6 664,403.2 Q662.2,406.8 657,406.8 L647.6,406.8 Q642.4,406.8 640.6,403.2 Z" fill="#101010" opacity="1" filter="url(#b1)"/>
<path d="M668,403.5 Q669.7,400.4 674.7,400.4 L683.6,400.4 Q688.6,400.4 690.3,403.5 Q688.6,406.6 683.6,406.6 L674.7,406.6 Q669.7,406.6 668,403.5 Z" fill="#151515" opacity="1" filter="url(#b1)"/>
<path d="M650,403.6 Q651.5,401.6 656,401.6 L674,401.6 Q678.5,401.6 680,403.6 Q678.5,405.6 674,405.6 L656,405.6 Q651.5,405.6 650,403.6 Z" fill="#1a1a1a" opacity="1" filter="url(#b1)"/>
<path d="M478.4,429.4 Q482.8,425.3 496,425.3 L519.4,425.3 Q532.6,425.3 537,429.4 Q532.6,433.5 519.4,433.5 L496,433.5 Q482.8,433.5 478.4,429.4 Z" fill="#050505" opacity="1" filter="url(#b0)"/>
<path d="M558.8,426 Q561.7,422.8 570.3,422.8 L604.8,422.8 Q613.4,422.8 616.3,426 Q613.4,429.2 604.8,429.2 L570.3,429.2 Q561.7,429.2 558.8,426 Z" fill="#444" opacity="0.9" filter="url(#b2)"/>
<path d="M656,425.9 Q657.8,424.1 663.3,424.7 L673.1,425.5 Q678.6,426.1 680.4,427.9 Q678.6,429.7 673.1,429.1 L663.3,428.3 Q657.8,427.7 656,425.9 Z" fill="#8a8a8a" opacity="0.9" filter="url(#b1)"/>
<path d="M408.8,451.8 Q413.6,449.8 428.1,449.8 L453.7,449.8 Q468.2,449.8 473,451.8 Q468.2,453.8 453.7,453.8 L428.1,453.8 Q413.6,453.8 408.8,451.8 Z" fill="#0a0a0a" opacity="1" filter="url(#b0)"/>
<path d="M470,451.8 Q475.3,449.6 491.1,449.6 L519.2,449.6 Q535,449.6 540.3,451.8 Q535,454 519.2,454 L491.1,454 Q475.3,454 470,451.8 Z" fill="#0a0a0a" opacity="1" filter="url(#b0)"/>
<path d="M561,449.6 Q566.3,446.9 582.1,446.9 L610.4,446.9 Q626.2,446.9 631.5,449.6 Q626.2,452.3 610.4,452.3 L582.1,452.3 Q566.3,452.3 561,449.6 Z" fill="#0a0a0a" opacity="1" filter="url(#b0)"/>
<path d="M628.5,449.6 Q633.2,447 647.4,447 L672.5,447 Q686.7,447 691.4,449.6 Q686.7,452.2 672.5,452.2 L647.4,452.2 Q633.2,452.2 628.5,449.6 Z" fill="#0a0a0a" opacity="1" filter="url(#b0)"/>
<text x="10.4" y="515.3" font-family='"Liberation Serif", serif' font-size="15.5" font-weight="bold" text-anchor="start" >D</text>
<rect x="91.5" y="539.7" width="159.7" height="147.1" fill="#fff" stroke="#2a2a2a" stroke-width="1"/>
<g id="sc1" transform="translate(0,0.5)" fill="none" stroke-width="1">
<path d="M98 671h1M100 673h1M100 678h1M101 674h1M101 679h1M102 670h1M102 671h1M102 673h1M102 675h1M102 683h1M102 684h1M103 666h1M103 668h1M103 680h1M103 685h1M104 665h1M105 667h1M105 668h1M106 666h1M108 656h1M108 661h1M109 659h1M109 661h1M110 658h1M111 631h1M111 651h1M112 655h1M113 647h1M113 650h1M113 655h1M114 649h1M114 653h1M115 651h1M115 684h1M115 685h1M116 684h1M117 643h1M117 646h1M117 648h1M117 649h1M118 645h1M118 647h1M118 681h1M119 640h1M119 680h1M120 648h1M120 682h1M121 636h1M121 644h1M121 645h1M121 677h1M122 630h1M122 639h1M122 641h1M122 643h1M122 674h1M122 675h1M122 680h1M122 681h1M123 636h1M123 643h1M123 671h1M123 673h1M123 679h1M123 682h1M124 642h1M124 674h1M124 676h1M125 630h1M125 636h1M125 641h1M125 676h1M126 631h1M126 640h1M126 641h1M126 669h1M127 624h1M127 635h1M127 637h1M127 675h1M128 621h1M128 626h1M128 629h1M128 634h1M128 638h1M128 659h1M128 661h1M129 622h1M129 628h1M129 633h1M129 660h1M129 664h1M129 668h1M130 608h1M130 615h1M130 621h1M130 628h1M130 656h1M130 658h1M131 611h1M131 620h1M131 621h1M131 654h1M131 656h1M131 664h1M132 611h1M132 618h1M132 625h1M132 644h1M132 645h1M132 653h1M132 659h1M132 662h1M132 665h1M133 642h1M133 652h1M133 655h1M134 615h1M134 618h1M134 648h1M134 654h1M134 668h1M135 612h1M135 618h1M135 636h1M135 644h1M135 656h1M135 658h1M136 587h1M136 615h1M136 617h1M136 638h1M137 635h1M137 639h1M137 641h1M137 642h1M137 659h1M138 616h1M138 636h1M138 652h1M139 577h1M139 613h1M139 614h1M139 636h1M140 615h1M140 633h1M140 634h1M141 590h1M141 605h1M141 610h1M141 612h1M141 613h1M141 614h1M141 616h1M141 636h1M141 652h1M142 612h1M142 614h1M142 616h1M142 626h1M142 634h1M143 597h1M143 605h1M143 610h1M143 617h1M143 630h1M144 590h1M144 612h1M144 620h1M144 636h1M144 637h1M145 596h1M145 616h1M145 617h1M145 618h1M145 622h1M145 631h1M145 632h1M145 633h1M145 636h1M146 589h1M146 597h1M146 606h1M146 611h1M146 619h1M146 621h1M146 631h1M146 632h1M147 579h1M147 581h1M147 582h1M147 583h1M147 589h1M147 591h1M147 601h1M147 612h1M147 615h1M147 626h1M147 634h1M148 585h1M148 587h1M148 592h1M148 636h1M149 586h1M149 588h1M149 593h1M149 594h1M149 596h1M149 600h1M149 613h1M149 632h1M149 636h1M150 574h1M150 576h1M150 585h1M150 589h1M150 594h1M150 619h1M150 620h1M150 635h1M150 637h1M151 573h1M151 596h1M151 619h1M152 576h1M152 579h1M152 581h1M152 582h1M152 586h1M152 591h1M152 603h1M152 610h1M152 612h1M152 613h1M152 615h1M152 618h1M152 636h1M153 577h1M153 588h1M153 595h1M153 606h1M153 616h1M153 619h1M153 635h1M153 636h1M154 595h1M154 607h1M154 612h1M155 579h1M155 588h1M155 594h1M155 605h1M155 613h1M155 618h1M155 634h1M156 597h1M156 617h1M156 634h1M156 636h1M156 637h1M156 638h1M156 640h1M157 575h1M157 589h1M157 617h1M157 620h1M157 635h1M158 587h1M158 589h1M158 596h1M158 601h1M158 617h1M158 619h1M159 571h1M159 575h1M159 576h1M159 585h1M159 588h1M159 610h1M159 614h1M159 616h1M159 617h1M159 636h1M160 573h1M160 576h1M160 586h1M160 589h1M160 595h1M160 608h1M160 618h1M160 635h1M160 636h1M160 637h1M161 575h1M161 586h1M161 588h1M161 597h1M161 618h1M162 571h1M162 587h1M162 599h1M162 614h1M162 635h1M162 638h1M163 566h1M163 586h1M163 588h1M163 590h1M163 596h1M163 605h1M163 611h1M163 634h1M163 639h1M163 643h1M164 573h1M164 589h1M164 595h1M164 609h1M164 616h1M164 634h1M165 564h1M165 568h1M165 572h1M165 586h1M165 588h1M165 601h1M165 613h1M165 614h1M165 636h1M166 587h1M166 593h1M166 617h1M167 568h1M167 571h1M167 587h1M167 588h1M167 596h1M167 597h1M167 612h1M167 635h1M168 572h1M168 589h1M168 591h1M168 593h1M168 612h1M168 613h1M168 617h1M168 619h1M168 635h1M169 566h1M169 570h1M169 572h1M169 594h1M169 595h1M169 600h1M169 601h1M169 606h1M169 612h1M169 613h1M169 636h1M170 565h1M170 566h1M170 567h1M170 570h1M170 572h1M170 587h1M170 588h1M170 598h1M170 609h1M170 613h1M170 615h1M170 618h1M170 633h1M171 568h1M171 570h1M171 571h1M171 574h1M171 593h1M171 596h1M171 605h1M171 610h1M171 611h1M171 614h1M171 616h1M171 619h1M171 630h1M171 633h1M171 634h1M172 576h1M172 580h1M172 581h1M172 584h1M172 585h1M172 587h1M172 597h1M172 598h1M172 599h1M172 604h1M172 607h1M172 618h1M173 571h1M173 578h1M173 580h1M173 584h1M173 587h1M173 598h1M173 600h1M173 607h1M173 609h1M173 618h1M173 620h1M173 621h1M174 560h1M174 569h1M174 572h1M174 573h1M174 574h1M174 579h1M174 580h1M174 588h1M174 590h1M174 595h1M174 596h1M174 614h1M174 621h1M174 629h1M175 561h1M175 564h1M175 574h1M175 580h1M175 581h1M175 593h1M175 598h1M175 601h1M175 603h1M175 615h1M175 620h1M175 625h1M175 626h1M175 627h1M176 571h1M176 577h1M176 578h1M176 592h1M176 594h1M176 599h1M176 600h1M176 604h1M176 608h1M176 609h1M176 612h1M176 613h1M176 616h1M176 617h1M176 619h1M176 622h1M176 634h1M177 565h1M177 567h1M177 575h1M177 576h1M177 578h1M177 581h1M177 586h1M177 594h1M177 609h1M177 611h1M177 616h1M177 625h1M177 627h1M177 633h1M178 569h1M178 571h1M178 572h1M178 573h1M178 574h1M178 583h1M178 599h1M178 600h1M178 602h1M178 606h1M178 607h1M178 608h1M178 611h1M178 612h1M178 615h1M178 619h1M178 620h1M178 626h1M178 630h1M179 570h1M179 573h1M179 583h1M179 596h1M179 599h1M179 603h1M179 611h1M179 613h1M179 614h1M179 615h1M179 616h1M179 622h1M179 628h1M180 567h1M180 568h1M180 570h1M180 577h1M180 589h1M180 603h1M180 609h1M181 564h1M181 569h1M181 571h1M181 573h1M181 574h1M181 575h1M181 577h1M181 589h1M181 594h1M181 600h1M181 606h1M182 563h1M182 568h1M182 570h1M182 571h1M182 598h1M182 607h1M182 618h1M183 566h1M183 575h1M183 578h1M183 601h1M183 607h1M183 619h1M183 625h1M184 563h1M184 574h1M184 583h1M184 596h1M185 550h1M185 557h1M185 572h1M185 575h1M186 573h1M186 579h1M186 584h1M186 586h1M186 589h1M186 614h1M187 558h1M187 595h1M187 602h1M188 570h1M188 572h1M189 571h1M189 572h1M189 629h1M190 564h1M190 609h1M191 566h1M191 576h1M192 563h1M192 603h1M193 568h1M193 582h1M194 560h1M196 583h1M223 608h1" stroke="#a9b2e2"/>
<path d="M104 676h1M104 677h1M104 678h1M104 679h1M104 681h1M104 682h1M104 683h1M104 684h1M105 669h1M105 670h1M105 671h1M105 672h1M105 673h1M105 674h1M105 675h1M105 679h1M105 684h1M106 670h1M106 679h1M106 681h1M106 682h1M106 683h1M106 684h1M107 665h1M107 666h1M107 667h1M107 669h1M108 685h1M109 662h1M109 685h1M110 661h1M110 684h1M111 659h1M111 660h1M111 684h1M111 685h1M112 658h1M112 684h1M113 658h1M113 683h1M113 684h1M114 658h1M114 682h1M115 654h1M115 655h1M115 657h1M115 681h1M115 682h1M116 653h1M116 655h1M116 656h1M116 680h1M117 650h1M117 651h1M117 653h1M117 654h1M117 680h1M117 681h1M118 650h1M118 652h1M118 653h1M118 677h1M118 678h1M118 679h1M119 649h1M119 652h1M119 653h1M120 649h1M120 653h1M120 673h1M120 675h1M120 676h1M121 650h1M121 651h1M121 652h1M121 653h1M121 671h1M121 672h1M121 674h1M122 646h1M122 648h1M122 649h1M122 650h1M122 653h1M122 669h1M122 670h1M122 671h1M123 646h1M123 647h1M124 643h1M124 644h1M124 646h1M124 647h1M124 648h1M124 653h1M124 654h1M124 668h1M124 669h1M125 644h1M125 645h1M125 651h1M125 652h1M125 654h1M125 655h1M125 656h1M125 667h1M126 643h1M126 644h1M126 649h1M126 650h1M126 651h1M126 652h1M126 653h1M126 656h1M126 657h1M126 658h1M126 660h1M126 661h1M126 662h1M126 663h1M126 664h1M126 665h1M126 667h1M126 668h1M127 643h1M127 650h1M127 651h1M127 654h1M127 655h1M127 656h1M127 658h1M127 661h1M127 662h1M127 665h1M128 643h1M128 652h1M128 654h1M128 655h1M128 656h1M128 657h1M128 658h1M129 635h1M129 636h1M129 638h1M129 639h1M129 640h1M129 643h1M129 649h1M129 650h1M129 652h1M129 653h1M129 654h1M130 634h1M130 635h1M130 636h1M130 637h1M130 640h1M130 644h1M130 645h1M130 646h1M130 647h1M130 649h1M130 650h1M130 651h1M130 653h1M130 654h1M131 628h1M131 629h1M131 630h1M131 631h1M131 633h1M131 634h1M131 636h1M131 639h1M131 641h1M131 642h1M131 644h1M131 645h1M131 648h1M131 649h1M131 653h1M132 627h1M132 628h1M132 630h1M132 632h1M132 633h1M132 635h1M132 636h1M132 637h1M132 638h1M132 640h1M132 641h1M132 648h1M132 649h1M132 650h1M132 651h1M133 620h1M133 621h1M133 622h1M133 623h1M133 625h1M133 626h1M133 627h1M133 629h1M133 630h1M133 632h1M133 633h1M133 634h1M133 635h1M133 637h1M133 639h1M133 640h1M133 641h1M133 648h1M133 650h1M134 619h1M134 620h1M134 621h1M134 622h1M134 626h1M134 627h1M134 628h1M134 629h1M134 631h1M134 632h1M134 635h1M134 637h1M134 638h1M134 639h1M134 640h1M134 641h1M135 623h1M135 628h1M135 629h1M135 631h1M135 633h1M135 634h1M135 635h1M135 639h1M136 620h1M136 621h1M136 630h1M136 632h1M136 633h1M136 634h1M137 618h1M137 621h1M137 631h1M137 632h1M138 618h1M138 620h1M138 628h1M138 629h1M138 630h1M138 631h1M138 632h1M138 634h1M138 635h1M139 618h1M139 619h1M139 620h1M139 626h1M139 627h1M139 628h1M139 629h1M139 631h1M139 632h1M140 616h1M140 618h1M140 620h1M140 621h1M140 622h1M140 623h1M140 624h1M140 625h1M140 626h1M140 627h1M140 628h1M140 629h1M140 630h1M140 632h1M141 618h1M141 620h1M141 621h1M141 622h1M141 623h1M141 628h1M141 629h1M141 630h1M142 618h1M142 619h1M142 621h1M142 622h1M142 623h1M143 618h1M143 622h1M143 623h1M143 624h1M143 629h1M144 621h1M144 624h1M144 625h1M144 626h1M144 627h1M144 628h1M144 629h1M145 623h1M145 624h1M145 625h1M145 626h1M145 628h1M146 623h1M146 625h1M147 624h1M147 627h1M147 628h1M147 629h1M147 630h1M148 622h1M148 623h1M148 624h1M148 625h1M148 628h1M148 629h1M149 621h1M149 622h1M149 626h1M149 629h1M149 630h1M149 631h1M150 621h1M150 623h1M150 624h1M150 625h1M150 626h1M150 628h1M150 629h1M150 630h1M151 622h1M151 623h1M151 624h1M151 625h1M151 627h1M151 630h1M151 632h1M151 633h1M152 585h1M152 620h1M152 621h1M152 623h1M152 629h1M152 631h1M152 632h1M152 633h1M153 580h1M153 581h1M153 582h1M153 584h1M153 585h1M153 586h1M153 620h1M153 621h1M153 622h1M153 631h1M153 632h1M153 633h1M154 580h1M154 582h1M154 583h1M154 585h1M154 586h1M154 621h1M154 622h1M154 633h1M154 635h1M155 580h1M155 581h1M155 582h1M155 584h1M155 585h1M155 622h1M155 631h1M156 579h1M156 582h1M156 622h1M156 631h1M157 579h1M157 581h1M157 585h1M157 586h1M157 622h1M157 631h1M158 579h1M158 582h1M158 583h1M158 584h1M158 621h1M158 632h1M158 633h1M159 578h1M159 579h1M159 583h1M159 619h1M159 620h1M159 621h1M159 632h1M159 633h1M160 578h1M160 582h1M160 620h1M160 621h1M160 633h1M161 577h1M161 578h1M161 582h1M161 584h1M161 620h1M161 632h1M161 633h1M161 634h1M162 578h1M162 582h1M162 583h1M162 620h1M162 632h1M163 575h1M163 576h1M163 577h1M163 582h1M163 583h1M163 584h1M163 585h1M163 620h1M164 575h1M164 583h1M164 620h1M164 632h1M165 574h1M165 575h1M165 577h1M165 578h1M165 583h1M165 584h1M165 619h1M165 630h1M165 632h1M165 633h1M166 576h1M166 579h1M166 583h1M166 584h1M166 618h1M166 620h1M166 631h1M166 632h1M167 572h1M167 573h1M167 574h1M167 575h1M167 576h1M167 578h1M167 579h1M167 581h1M167 582h1M167 584h1M167 617h1M167 620h1M167 621h1M167 629h1M167 630h1M167 632h1M167 633h1M167 634h1M168 575h1M168 576h1M168 577h1M168 578h1M168 581h1M168 584h1M168 621h1M168 622h1M168 631h1M168 633h1M169 574h1M169 575h1M169 579h1M169 580h1M169 581h1M169 582h1M169 583h1M169 584h1M169 585h1M169 621h1M169 629h1M169 630h1M169 632h1M170 574h1M170 575h1M170 577h1M170 578h1M170 579h1M170 582h1M170 584h1M170 585h1M170 586h1M170 589h1M170 590h1M170 592h1M170 593h1M170 621h1M170 624h1M170 625h1M170 627h1M170 628h1M170 630h1M171 575h1M171 576h1M171 577h1M171 578h1M171 579h1M171 581h1M171 582h1M171 584h1M171 586h1M171 589h1M171 590h1M171 591h1M171 621h1M171 622h1M171 623h1M171 625h1M171 626h1M171 628h1M172 578h1M172 589h1M172 591h1M172 611h1M172 613h1M172 617h1M172 625h1M172 627h1M172 628h1M173 591h1M173 605h1M173 611h1M173 612h1M173 613h1M173 615h1M173 616h1M173 623h1M173 625h1M173 627h1M173 628h1M174 592h1M174 604h1M174 605h1M174 606h1M174 607h1M174 611h1M174 623h1M174 624h1M174 625h1M174 627h1M174 628h1M175 591h1M175 596h1M175 604h1M175 605h1M175 606h1M175 607h1M175 616h1M175 623h1M176 596h1M176 597h1M176 605h1M177 595h1M177 596h1M177 600h1M178 596h1" stroke="#5a6cd0"/>
<path d="M105 676h1M105 677h1M105 678h1M106 671h1M106 672h1M106 673h1M106 674h1M106 675h1M106 676h1M106 678h1M107 671h1M107 672h1M107 673h1M107 674h1M107 675h1M107 676h1M107 677h1M107 678h1M107 679h1M107 680h1M107 681h1M107 683h1M108 666h1M108 667h1M108 669h1M108 670h1M108 680h1M108 681h1M108 682h1M108 683h1M108 684h1M109 665h1M109 666h1M109 667h1M109 682h1M109 683h1M109 684h1M110 663h1M110 664h1M110 665h1M110 682h1M111 661h1M111 662h1M111 663h1M111 682h1M112 659h1M112 660h1M112 661h1M112 662h1M112 681h1M112 683h1M113 659h1M113 660h1M113 681h1M113 682h1M114 659h1M114 661h1M114 680h1M114 681h1M115 659h1M115 660h1M115 679h1M116 657h1M116 658h1M116 659h1M116 677h1M116 678h1M116 679h1M117 655h1M117 656h1M117 657h1M117 658h1M117 676h1M117 677h1M117 678h1M118 654h1M118 655h1M118 656h1M118 657h1M118 658h1M118 675h1M118 676h1M119 654h1M119 655h1M119 656h1M119 657h1M119 672h1M119 673h1M119 674h1M119 675h1M120 655h1M120 656h1M120 657h1M120 658h1M120 669h1M120 670h1M120 671h1M120 672h1M121 654h1M121 655h1M121 656h1M121 658h1M121 662h1M121 666h1M121 667h1M121 668h1M121 669h1M122 651h1M122 652h1M122 655h1M122 656h1M122 657h1M122 658h1M122 661h1M122 662h1M122 663h1M122 664h1M122 665h1M122 666h1M122 667h1M122 668h1M123 650h1M123 651h1M123 652h1M123 654h1M123 656h1M123 657h1M123 658h1M123 659h1M123 660h1M123 661h1M123 662h1M123 663h1M123 664h1M123 665h1M123 666h1M124 649h1M124 650h1M124 651h1M124 652h1M124 655h1M124 656h1M124 657h1M124 658h1M124 659h1M124 660h1M124 661h1M124 662h1M124 663h1M124 664h1M124 665h1M124 666h1M125 647h1M125 648h1M125 649h1M125 650h1M125 657h1M125 658h1M125 659h1M125 661h1M125 662h1M125 664h1M125 665h1M126 645h1M126 646h1M126 647h1M126 648h1M127 644h1M127 645h1M127 646h1M127 647h1M127 648h1M127 653h1M128 644h1M128 645h1M128 647h1M128 648h1M128 653h1M129 644h1M129 645h1M129 646h1M129 647h1M129 648h1M130 648h1M135 622h1M136 622h1M136 623h1M136 624h1M136 625h1M136 626h1M136 627h1M136 628h1M137 622h1M137 623h1M137 624h1M137 625h1M137 626h1M137 627h1M137 628h1M137 629h1M137 630h1M138 622h1M138 623h1M138 624h1M138 625h1M138 626h1M139 621h1M139 622h1M139 623h1M139 624h1M139 625h1M152 624h1M152 625h1M152 626h1M152 627h1M152 628h1M153 623h1M153 624h1M153 625h1M153 626h1M153 627h1M153 628h1M153 629h1M153 630h1M154 623h1M154 624h1M154 625h1M154 626h1M154 627h1M154 628h1M154 629h1M154 630h1M154 631h1M155 623h1M155 624h1M155 625h1M155 626h1M155 627h1M155 628h1M155 629h1M155 630h1M156 624h1M156 625h1M156 627h1M156 628h1M156 630h1M157 623h1M157 624h1M157 625h1M157 626h1M157 627h1M157 628h1M157 629h1M158 580h1M158 581h1M158 622h1M158 623h1M158 628h1M158 629h1M158 630h1M158 631h1M159 580h1M159 581h1M159 582h1M159 623h1M159 628h1M159 629h1M159 630h1M159 631h1M160 579h1M160 580h1M160 581h1M160 622h1M160 623h1M160 628h1M160 629h1M160 630h1M160 631h1M161 579h1M161 580h1M161 581h1M161 621h1M161 622h1M161 623h1M161 629h1M161 631h1M162 579h1M162 580h1M162 581h1M162 622h1M162 623h1M162 629h1M162 630h1M162 631h1M163 579h1M163 580h1M163 621h1M163 622h1M163 623h1M163 629h1M163 630h1M163 631h1M164 578h1M164 579h1M164 580h1M164 581h1M164 582h1M164 621h1M164 622h1M164 623h1M164 624h1M164 628h1M164 629h1M164 630h1M164 631h1M165 579h1M165 580h1M165 581h1M165 582h1M165 621h1M165 622h1M165 623h1M165 624h1M165 625h1M165 626h1M165 627h1M165 628h1M165 629h1M166 580h1M166 581h1M166 582h1M166 621h1M166 622h1M166 623h1M166 624h1M166 625h1M166 626h1M166 627h1M166 628h1M167 583h1M167 622h1M167 624h1M167 625h1M167 626h1M167 627h1M167 628h1M168 583h1M168 624h1M168 625h1M168 626h1M168 627h1M168 628h1M168 629h1M169 623h1M169 625h1M169 626h1M169 627h1M169 628h1M170 622h1M170 623h1" stroke="#2747c4"/>
<path d="M108 671h1M108 672h1M108 673h1M108 674h1M108 675h1M108 676h1M108 677h1M108 678h1M108 679h1M109 668h1M109 669h1M109 670h1M109 677h1M109 678h1M109 679h1M109 680h1M109 681h1M110 666h1M110 667h1M110 668h1M110 680h1M110 681h1M111 664h1M111 665h1M111 666h1M111 680h1M111 681h1M112 663h1M112 680h1M113 662h1M113 663h1M113 679h1M113 680h1M114 662h1M114 678h1M114 679h1M115 661h1M115 662h1M115 677h1M115 678h1M116 660h1M116 661h1M116 662h1M116 675h1M116 676h1M117 659h1M117 660h1M117 661h1M117 674h1M117 675h1M118 659h1M118 660h1M118 661h1M118 672h1M118 673h1M118 674h1M119 658h1M119 659h1M119 660h1M119 661h1M119 662h1M119 663h1M119 669h1M119 670h1M119 671h1M120 659h1M120 660h1M120 661h1M120 662h1M120 663h1M120 664h1M120 665h1M120 666h1M120 667h1M120 668h1M121 659h1M121 660h1M121 661h1M121 663h1M121 664h1M121 665h1M122 659h1M122 660h1M158 625h1M158 626h1M158 627h1M159 624h1M159 625h1M159 626h1M159 627h1M160 624h1M160 625h1M160 626h1M160 627h1M161 624h1M161 625h1M161 626h1M161 627h1M161 628h1M162 624h1M162 625h1M162 626h1M162 627h1M162 628h1M163 624h1M163 625h1M163 626h1M163 627h1M163 628h1M164 625h1M164 626h1M164 627h1" stroke="#1a62d4"/>
<path d="M109 671h1M109 672h1M109 673h1M109 674h1M109 675h1M109 676h1M110 669h1M110 670h1M110 676h1M110 677h1M110 678h1M110 679h1M111 667h1M111 677h1M111 678h1M111 679h1M112 664h1M112 665h1M112 678h1M112 679h1M113 664h1M113 677h1M113 678h1M114 663h1M114 677h1M115 663h1M115 675h1M115 676h1M116 663h1M116 674h1M117 662h1M117 663h1M117 673h1M118 662h1M118 663h1M118 664h1M118 669h1M118 670h1M118 671h1M119 664h1M119 665h1M119 666h1M119 667h1M119 668h1" stroke="#1aa0d8"/>
<path d="M110 671h1M110 672h1M110 674h1M110 675h1M111 668h1M111 669h1M111 675h1M111 676h1M112 666h1M112 667h1M112 676h1M112 677h1M113 665h1M113 676h1M114 664h1M114 675h1M114 676h1M115 664h1M115 673h1M115 674h1M116 664h1M116 672h1M116 673h1M117 664h1M117 665h1M117 670h1M117 671h1M117 672h1M118 665h1M118 666h1M118 667h1M118 668h1" stroke="#20c8a8"/>
<path d="M110 673h1M111 670h1M111 671h1M111 672h1M111 673h1M111 674h1M112 668h1M112 672h1M112 673h1M112 674h1M112 675h1M113 666h1M113 667h1M113 672h1M113 673h1M113 674h1M113 675h1M114 665h1M114 666h1M114 672h1M114 673h1M114 674h1M115 665h1M115 671h1M115 672h1M116 665h1M116 666h1M116 670h1M116 671h1M117 666h1M117 667h1M117 668h1M117 669h1" stroke="#3fe05a"/>
<path d="M112 669h1M112 670h1M112 671h1M113 668h1M113 671h1M114 667h1M114 668h1M114 671h1M115 666h1M115 667h1M115 670h1M116 667h1M116 668h1M116 669h1" stroke="#b8ee38"/>
<path d="M113 669h1M113 670h1M114 669h1M114 670h1M115 668h1M115 669h1" stroke="#ffe92a"/>
</g>
<use href="#sc1" filter="url(#bs)" opacity="0.55"/>
<path d="M145.5,541.2V686.8 M91.5,642.5H251.2" stroke="#222" stroke-width="1" fill="none"/>
<text x="84.3" y="685.8" font-family='"Liberation Sans", sans-serif' font-size="7.4" text-anchor="end" fill="#222">10<tspan dx="0.8" dy="-3.6" font-size="6.6">0</tspan></text>
<text x="99.9" y="702.1" font-family='"Liberation Sans", sans-serif' font-size="7.4" text-anchor="middle" fill="#222">10<tspan dx="0.8" dy="-3.6" font-size="6.6">0</tspan></text>
<text x="84.3" y="652.4" font-family='"Liberation Sans", sans-serif' font-size="7.4" text-anchor="end" fill="#222">10<tspan dx="0.8" dy="-3.6" font-size="6.6">1</tspan></text>
<text x="136.1" y="702.1" font-family='"Liberation Sans", sans-serif' font-size="7.4" text-anchor="middle" fill="#222">10<tspan dx="0.8" dy="-3.6" font-size="6.6">1</tspan></text>
<text x="84.3" y="615.6" font-family='"Liberation Sans", sans-serif' font-size="7.4" text-anchor="end" fill="#222">10<tspan dx="0.8" dy="-3.6" font-size="6.6">2</tspan></text>
<text x="172.5" y="702.1" font-family='"Liberation Sans", sans-serif' font-size="7.4" text-anchor="middle" fill="#222">10<tspan dx="0.8" dy="-3.6" font-size="6.6">2</tspan></text>
<text x="84.3" y="578.9" font-family='"Liberation Sans", sans-serif' font-size="7.4" text-anchor="end" fill="#222">10<tspan dx="0.8" dy="-3.6" font-size="6.6">3</tspan></text>
<text x="210.5" y="702.1" font-family='"Liberation Sans", sans-serif' font-size="7.4" text-anchor="middle" fill="#222">10<tspan dx="0.8" dy="-3.6" font-size="6.6">3</tspan></text>
<text x="84.3" y="551.9" font-family='"Liberation Sans", sans-serif' font-size="7.4" text-anchor="end" fill="#222">10<tspan dx="0.8" dy="-3.6" font-size="6.6">4</tspan></text>
<text x="247.9" y="702.1" font-family='"Liberation Sans", sans-serif' font-size="7.4" text-anchor="middle" fill="#222">10<tspan dx="0.8" dy="-3.6" font-size="6.6">4</tspan></text>
<path d="M91.5,686.8h-4.5M91.5,675.7h-2.3M91.5,669.3h-2.3M91.5,664.7h-2.3M91.5,661.1h-2.3M91.5,658.2h-2.3M91.5,655.7h-2.3M91.5,653.6h-2.3M91.5,651.7h-2.3M91.5,686.8v4.2M103.5,686.8v2.2M110.5,686.8v2.2M115.5,686.8v2.2M119.4,686.8v2.2M122.6,686.8v2.2M125.2,686.8v2.2M127.6,686.8v2.2M129.6,686.8v2.2M91.5,650h-4.5M91.5,639h-2.3M91.5,632.5h-2.3M91.5,627.9h-2.3M91.5,624.3h-2.3M91.5,621.4h-2.3M91.5,618.9h-2.3M91.5,616.8h-2.3M91.5,614.9h-2.3M131.4,686.8v4.2M143.4,686.8v2.2M150.5,686.8v2.2M155.5,686.8v2.2M159.3,686.8v2.2M162.5,686.8v2.2M165.2,686.8v2.2M167.5,686.8v2.2M169.5,686.8v2.2M91.5,613.2h-4.5M91.5,602.2h-2.3M91.5,595.7h-2.3M91.5,591.1h-2.3M91.5,587.5h-2.3M91.5,584.6h-2.3M91.5,582.2h-2.3M91.5,580h-2.3M91.5,578.2h-2.3M171.3,686.8v4.2M183.4,686.8v2.2M190.4,686.8v2.2M195.4,686.8v2.2M199.3,686.8v2.2M202.4,686.8v2.2M205.1,686.8v2.2M207.4,686.8v2.2M209.4,686.8v2.2M91.5,576.5h-4.5M91.5,565.4h-2.3M91.5,558.9h-2.3M91.5,554.3h-2.3M91.5,550.8h-2.3M91.5,547.9h-2.3M91.5,545.4h-2.3M91.5,543.3h-2.3M91.5,541.4h-2.3M211.3,686.8v4.2M223.3,686.8v2.2M230.3,686.8v2.2M235.3,686.8v2.2M239.2,686.8v2.2M242.3,686.8v2.2M245,686.8v2.2M247.3,686.8v2.2M249.4,686.8v2.2M91.5,539.7h-4.5M251.2,686.8v4.2" stroke="#2a2a2a" stroke-width="0.7" fill="none"/>
<text x="94.6" y="547.2" font-family='"Liberation Sans", sans-serif' font-size="7.4" text-anchor="start" fill="#333">Q1</text>
<text x="94.6" y="557.3" font-family='"Liberation Sans", sans-serif' font-size="7.4" text-anchor="start" fill="#333">4.43%</text>
<text x="225.8" y="547.2" font-family='"Liberation Sans", sans-serif' font-size="7.4" text-anchor="start" fill="#333">Q2</text>
<text x="225.8" y="557.3" font-family='"Liberation Sans", sans-serif' font-size="7.4" text-anchor="start" fill="#333">11.2%</text>
<text x="94.6" y="673" font-family='"Liberation Sans", sans-serif' font-size="7.4" text-anchor="start" fill="#333">Q4</text>
<text x="94.6" y="683.6" font-family='"Liberation Sans", sans-serif' font-size="7.4" text-anchor="start" fill="#333">84.3%</text>
<text x="221.7" y="673" font-family='"Liberation Sans", sans-serif' font-size="7.4" text-anchor="start" fill="#333">Q3</text>
<text x="221.7" y="683.6" font-family='"Liberation Sans", sans-serif' font-size="7.4" text-anchor="start" fill="#333">0.090%</text>
<path d="M95.6,732.8V879.5H255.4V731.8H231" fill="none" stroke="#2a2a2a" stroke-width="1"/>
<g id="sc2" transform="translate(0,0.5)" fill="none" stroke-width="1">
<path d="M101 877h1M107 870h1M107 872h1M107 877h1M109 862h1M109 867h1M109 870h1M110 868h1M110 871h1M110 876h1M111 863h1M111 868h1M111 869h1M111 872h1M112 861h1M112 864h1M112 872h1M112 874h1M113 858h1M113 859h1M113 861h1M113 876h1M113 878h1M114 846h1M114 857h1M114 875h1M114 876h1M116 846h1M116 852h1M116 853h1M117 848h1M117 876h1M117 877h1M118 848h1M119 843h1M119 845h1M119 848h1M119 877h1M120 844h1M120 845h1M120 846h1M121 836h1M121 842h1M121 874h1M122 838h1M122 841h1M122 843h1M122 872h1M122 876h1M123 839h1M124 839h1M125 874h1M126 838h1M126 871h1M126 875h1M127 821h1M127 832h1M127 835h1M127 869h1M128 867h1M129 828h1M129 866h1M130 812h1M130 813h1M130 819h1M131 814h1M131 816h1M131 817h1M131 819h1M131 822h1M131 867h1M132 810h1M132 814h1M132 815h1M132 861h1M132 863h1M133 811h1M133 812h1M133 822h1M133 858h1M133 862h1M134 804h1M134 806h1M134 807h1M134 810h1M134 855h1M134 859h1M134 863h1M135 802h1M135 849h1M135 851h1M135 856h1M136 850h1M136 853h1M137 801h1M137 802h1M137 804h1M137 848h1M137 852h1M138 797h1M138 802h1M138 842h1M138 846h1M138 850h1M138 851h1M139 769h1M139 787h1M139 795h1M139 799h1M139 802h1M139 843h1M139 856h1M140 794h1M140 797h1M140 801h1M140 838h1M140 844h1M141 782h1M141 801h1M141 836h1M141 839h1M142 787h1M142 795h1M142 835h1M143 794h1M143 795h1M143 832h1M144 777h1M144 794h1M144 831h1M144 833h1M144 835h1M145 796h1M145 797h1M145 824h1M145 828h1M146 776h1M146 788h1M146 796h1M146 798h1M146 828h1M146 833h1M146 838h1M147 773h1M147 794h1M147 824h1M147 825h1M147 827h1M148 772h1M148 773h1M148 779h1M148 781h1M148 784h1M148 790h1M148 792h1M148 795h1M148 796h1M148 802h1M148 826h1M148 827h1M148 829h1M148 830h1M149 789h1M149 790h1M149 793h1M149 799h1M149 801h1M149 827h1M149 830h1M150 781h1M150 783h1M150 787h1M150 792h1M150 801h1M150 807h1M150 826h1M150 834h1M150 836h1M151 766h1M151 772h1M151 775h1M151 787h1M151 793h1M151 794h1M151 797h1M151 826h1M151 828h1M152 768h1M152 771h1M152 786h1M152 792h1M152 794h1M152 798h1M152 800h1M152 801h1M152 802h1M152 803h1M152 804h1M152 807h1M152 824h1M152 832h1M152 836h1M152 837h1M153 761h1M153 776h1M153 778h1M153 786h1M153 793h1M153 794h1M153 796h1M153 798h1M153 799h1M153 800h1M153 808h1M153 829h1M153 833h1M154 771h1M154 773h1M154 777h1M154 780h1M154 781h1M154 783h1M154 789h1M154 796h1M154 800h1M154 802h1M154 803h1M154 825h1M154 832h1M154 833h1M155 771h1M155 781h1M155 785h1M155 787h1M155 790h1M155 796h1M155 797h1M155 799h1M156 772h1M156 778h1M156 779h1M156 781h1M156 782h1M156 783h1M156 790h1M156 801h1M156 829h1M156 832h1M156 833h1M157 779h1M157 781h1M157 790h1M157 792h1M157 793h1M157 797h1M157 798h1M157 801h1M157 826h1M157 830h1M157 834h1M158 766h1M158 769h1M158 770h1M158 778h1M158 784h1M158 786h1M158 787h1M158 791h1M158 792h1M158 794h1M158 795h1M158 796h1M158 798h1M158 802h1M158 827h1M158 831h1M159 768h1M159 778h1M159 788h1M159 799h1M159 802h1M160 765h1M160 766h1M160 767h1M160 778h1M160 779h1M160 790h1M160 794h1M160 829h1M160 831h1M161 765h1M161 766h1M161 769h1M161 778h1M161 779h1M161 792h1M161 795h1M161 801h1M161 831h1M161 846h1M162 764h1M162 766h1M162 768h1M162 781h1M162 783h1M162 785h1M162 787h1M162 790h1M162 830h1M162 832h1M163 765h1M163 782h1M163 784h1M163 785h1M163 786h1M163 789h1M163 829h1M163 831h1M164 784h1M164 787h1M164 788h1M164 789h1M164 834h1M165 764h1M165 784h1M165 786h1M165 790h1M165 831h1M166 760h1M166 787h1M167 763h1M167 784h1M167 835h1M168 781h1M168 828h1M168 833h1M168 834h1M169 760h1M169 762h1M169 780h1M169 826h1M170 762h1M170 779h1M170 780h1M170 825h1M170 826h1M170 828h1M170 831h1M170 832h1M171 759h1M171 760h1M171 778h1M171 780h1M171 782h1M171 783h1M171 825h1M171 827h1M171 833h1M172 782h1M172 825h1M172 830h1M173 781h1M173 792h1M173 825h1M173 829h1M173 831h1M173 832h1M173 841h1M174 824h1M174 825h1M174 828h1M174 830h1M175 765h1M176 756h1M176 759h1M176 762h1M176 764h1M176 779h1M176 828h1M177 762h1M177 773h1M177 776h1M177 781h1M177 786h1M177 823h1M177 828h1M178 762h1M178 765h1M178 775h1M178 776h1M178 780h1M178 782h1M178 783h1M178 789h1M178 792h1M178 795h1M178 829h1M179 761h1M179 762h1M179 765h1M179 773h1M179 776h1M179 778h1M179 779h1M179 788h1M179 791h1M179 792h1M179 793h1M179 796h1M179 797h1M179 818h1M179 820h1M179 821h1M179 822h1M179 823h1M180 764h1M180 766h1M180 771h1M180 779h1M180 784h1M180 787h1M180 789h1M181 763h1M181 764h1M181 766h1M181 769h1M181 770h1M181 778h1M181 782h1M181 783h1M181 786h1M181 797h1M181 823h1M181 830h1M182 765h1M182 768h1M182 774h1M182 776h1M182 782h1M182 784h1M182 787h1M182 789h1M182 791h1M182 793h1M182 795h1M182 798h1M182 799h1M182 819h1M182 821h1M183 765h1M183 772h1M183 775h1M183 778h1M183 783h1M183 785h1M183 787h1M183 788h1M183 790h1M183 791h1M183 797h1M183 800h1M183 802h1M183 819h1M183 822h1M183 826h1M184 768h1M184 771h1M184 773h1M184 776h1M184 777h1M184 779h1M184 787h1M184 797h1M184 798h1M184 814h1M184 817h1M184 820h1M184 821h1M184 827h1M185 759h1M185 761h1M185 764h1M185 768h1M185 774h1M185 778h1M185 780h1M185 781h1M185 787h1M185 788h1M185 789h1M185 802h1M185 807h1M185 811h1M185 813h1M185 818h1M185 819h1M186 770h1M186 780h1M186 782h1M186 798h1M186 799h1M186 808h1M186 810h1M186 811h1M186 813h1M186 818h1M186 819h1M186 823h1M187 764h1M187 766h1M187 768h1M187 779h1M187 780h1M187 790h1M187 797h1M187 800h1M187 807h1M187 808h1M187 812h1M188 758h1M188 766h1M188 773h1M188 783h1M188 792h1M188 796h1M188 798h1M188 799h1M188 801h1M188 804h1M188 805h1M188 812h1M189 763h1M189 767h1M189 774h1M189 790h1M189 793h1M189 798h1M189 805h1M189 809h1M189 810h1M189 813h1M190 767h1M190 794h1M190 800h1M190 806h1M190 807h1M190 809h1M190 811h1M191 772h1M191 773h1M191 783h1M191 784h1M191 792h1M191 805h1M191 810h1M192 760h1M192 762h1M192 800h1M193 763h1M193 793h1M193 811h1M194 767h1M194 768h1M194 774h1M194 780h1M194 799h1M194 825h1M195 781h1M195 797h1M196 776h1M196 814h1M197 775h1M197 777h1M197 778h1M197 784h1M197 785h1M198 792h1M199 753h1M199 771h1M199 772h1M199 814h1M200 772h1M201 781h1M201 799h1M202 770h1M202 797h1M202 804h1M203 761h1M206 748h1M211 779h1M213 750h1" stroke="#a9b2e2"/>
<path d="M113 862h1M113 863h1M113 864h1M113 865h1M113 866h1M113 867h1M113 868h1M113 870h1M113 873h1M113 874h1M114 862h1M114 869h1M114 870h1M114 872h1M114 874h1M115 856h1M115 858h1M115 860h1M115 871h1M115 873h1M116 855h1M116 872h1M116 873h1M117 852h1M117 853h1M117 874h1M118 852h1M118 874h1M119 851h1M119 873h1M119 874h1M120 848h1M120 849h1M120 873h1M120 874h1M121 871h1M122 845h1M122 846h1M122 847h1M122 871h1M123 844h1M123 845h1M123 870h1M124 840h1M124 841h1M124 842h1M124 843h1M124 845h1M125 839h1M125 841h1M125 842h1M125 844h1M125 868h1M126 839h1M126 841h1M126 842h1M126 843h1M126 845h1M126 867h1M126 868h1M127 838h1M127 840h1M127 841h1M127 843h1M127 844h1M127 864h1M127 866h1M128 834h1M128 835h1M128 836h1M128 838h1M128 840h1M128 863h1M129 832h1M129 835h1M129 836h1M129 837h1M129 840h1M130 828h1M130 831h1M130 832h1M130 833h1M130 834h1M130 839h1M130 840h1M130 859h1M130 860h1M131 824h1M131 825h1M131 826h1M131 827h1M131 828h1M131 839h1M131 858h1M132 817h1M132 818h1M132 819h1M132 823h1M132 824h1M132 825h1M132 826h1M132 827h1M132 828h1M132 853h1M132 855h1M132 856h1M132 857h1M133 816h1M133 818h1M133 819h1M133 825h1M133 827h1M133 848h1M133 849h1M133 852h1M133 853h1M133 854h1M133 856h1M134 815h1M134 816h1M134 817h1M134 818h1M134 820h1M134 821h1M134 825h1M134 826h1M134 846h1M134 849h1M134 851h1M134 853h1M134 854h1M135 807h1M135 813h1M135 819h1M135 821h1M135 822h1M135 823h1M135 824h1M135 842h1M135 845h1M135 847h1M135 848h1M136 806h1M136 808h1M136 809h1M136 810h1M136 811h1M136 812h1M136 818h1M136 822h1M136 840h1M136 841h1M136 842h1M136 843h1M136 844h1M136 845h1M136 846h1M137 805h1M137 806h1M137 809h1M137 811h1M137 819h1M137 820h1M137 821h1M137 827h1M137 828h1M137 835h1M137 836h1M137 837h1M137 838h1M137 839h1M137 842h1M137 843h1M138 805h1M138 809h1M138 810h1M138 827h1M138 834h1M138 836h1M138 840h1M139 803h1M139 804h1M139 805h1M139 827h1M139 828h1M139 833h1M139 834h1M139 835h1M139 836h1M139 837h1M140 799h1M140 827h1M140 828h1M140 832h1M140 835h1M141 799h1M141 804h1M141 805h1M141 826h1M141 828h1M141 831h1M141 833h1M142 798h1M142 802h1M142 803h1M142 804h1M142 826h1M142 828h1M142 830h1M143 797h1M143 799h1M143 801h1M143 802h1M143 818h1M143 819h1M143 822h1M143 824h1M143 825h1M143 828h1M143 829h1M143 830h1M143 831h1M144 796h1M144 799h1M144 800h1M144 802h1M144 805h1M144 817h1M144 818h1M144 819h1M144 820h1M144 821h1M144 822h1M144 823h1M144 824h1M144 825h1M144 826h1M144 827h1M144 828h1M144 829h1M145 800h1M145 803h1M145 804h1M145 805h1M145 806h1M145 809h1M145 816h1M145 818h1M145 819h1M145 820h1M146 799h1M146 800h1M146 802h1M146 804h1M146 805h1M146 806h1M146 808h1M146 811h1M146 812h1M146 814h1M146 815h1M146 817h1M146 819h1M146 820h1M146 821h1M146 822h1M147 799h1M147 800h1M147 801h1M147 803h1M147 804h1M147 805h1M147 806h1M147 807h1M147 809h1M147 810h1M147 812h1M147 814h1M147 815h1M147 816h1M147 818h1M147 819h1M147 820h1M147 823h1M148 803h1M148 804h1M148 806h1M148 808h1M148 809h1M148 812h1M148 813h1M148 814h1M148 817h1M148 818h1M148 819h1M148 822h1M148 823h1M148 824h1M149 804h1M149 805h1M149 806h1M149 808h1M149 814h1M149 815h1M149 817h1M149 819h1M149 823h1M149 824h1M150 804h1M150 805h1M150 811h1M150 814h1M150 815h1M150 817h1M150 818h1M150 819h1M150 820h1M150 823h1M151 805h1M151 809h1M151 811h1M151 813h1M151 816h1M151 819h1M151 820h1M151 823h1M151 824h1M152 805h1M152 809h1M152 810h1M152 811h1M152 812h1M152 813h1M152 814h1M152 816h1M152 820h1M152 821h1M153 806h1M153 812h1M153 813h1M153 821h1M153 822h1M154 804h1M154 805h1M154 806h1M154 807h1M154 810h1M154 811h1M154 821h1M154 823h1M155 772h1M155 773h1M155 774h1M155 775h1M155 777h1M155 803h1M155 804h1M155 806h1M155 807h1M155 808h1M155 810h1M155 811h1M155 813h1M155 822h1M155 824h1M156 774h1M156 775h1M156 776h1M156 803h1M156 806h1M156 807h1M156 808h1M156 809h1M156 810h1M156 811h1M156 822h1M156 823h1M156 825h1M157 773h1M157 775h1M157 804h1M157 807h1M157 809h1M157 810h1M157 811h1M157 823h1M157 825h1M158 771h1M158 772h1M158 773h1M158 776h1M158 777h1M158 804h1M158 806h1M158 807h1M158 809h1M158 810h1M158 823h1M158 824h1M158 825h1M159 770h1M159 772h1M159 773h1M159 774h1M159 775h1M159 777h1M159 784h1M159 786h1M159 787h1M159 795h1M159 797h1M159 803h1M159 805h1M159 806h1M159 807h1M159 808h1M159 809h1M160 770h1M160 771h1M160 772h1M160 773h1M160 775h1M160 783h1M160 784h1M160 785h1M160 798h1M160 804h1M160 805h1M160 806h1M160 807h1M160 808h1M160 809h1M160 822h1M160 823h1M160 825h1M160 828h1M161 771h1M161 772h1M161 774h1M161 775h1M161 784h1M161 797h1M161 798h1M161 800h1M161 802h1M161 803h1M161 804h1M161 805h1M161 807h1M161 809h1M161 822h1M161 824h1M161 825h1M161 826h1M161 827h1M161 828h1M162 771h1M162 772h1M162 774h1M162 776h1M162 780h1M162 791h1M162 799h1M162 800h1M162 803h1M162 805h1M162 807h1M162 808h1M162 809h1M162 824h1M163 769h1M163 770h1M163 771h1M163 772h1M163 773h1M163 774h1M163 775h1M163 776h1M163 778h1M163 780h1M163 791h1M163 792h1M163 796h1M163 798h1M163 799h1M163 803h1M163 805h1M163 807h1M163 808h1M163 823h1M163 824h1M163 826h1M164 768h1M164 770h1M164 774h1M164 776h1M164 780h1M164 782h1M164 791h1M164 793h1M164 794h1M164 796h1M164 797h1M164 798h1M164 799h1M164 800h1M164 801h1M164 802h1M164 803h1M164 804h1M164 806h1M164 807h1M164 808h1M164 809h1M164 822h1M164 825h1M164 826h1M164 828h1M165 769h1M165 770h1M165 777h1M165 778h1M165 781h1M165 782h1M165 792h1M165 793h1M165 794h1M165 795h1M165 797h1M165 798h1M165 799h1M165 801h1M165 802h1M165 803h1M165 805h1M165 806h1M165 807h1M165 822h1M165 823h1M165 824h1M165 825h1M165 826h1M165 828h1M166 769h1M166 770h1M166 771h1M166 775h1M166 776h1M166 778h1M166 779h1M166 780h1M166 782h1M166 783h1M166 791h1M166 792h1M166 794h1M166 795h1M166 796h1M166 797h1M166 801h1M166 805h1M166 806h1M166 807h1M166 822h1M166 824h1M166 825h1M166 826h1M166 827h1M166 828h1M167 768h1M167 777h1M167 778h1M167 779h1M167 781h1M167 782h1M167 785h1M167 786h1M167 787h1M167 791h1M167 794h1M167 795h1M167 796h1M167 798h1M167 802h1M167 804h1M167 805h1M167 806h1M167 822h1M167 823h1M167 824h1M168 763h1M168 764h1M168 765h1M168 766h1M168 767h1M168 768h1M168 771h1M168 772h1M168 774h1M168 776h1M168 778h1M168 780h1M168 783h1M168 787h1M168 789h1M168 790h1M168 791h1M168 795h1M168 796h1M168 797h1M168 798h1M168 799h1M168 800h1M168 803h1M168 804h1M168 806h1M168 822h1M168 823h1M168 824h1M169 764h1M169 765h1M169 767h1M169 769h1M169 770h1M169 771h1M169 772h1M169 774h1M169 775h1M169 783h1M169 784h1M169 785h1M169 786h1M169 788h1M169 790h1M169 791h1M169 794h1M169 795h1M169 797h1M169 798h1M169 799h1M169 800h1M169 801h1M169 802h1M169 803h1M169 804h1M169 805h1M169 821h1M169 822h1M169 823h1M169 828h1M170 765h1M170 767h1M170 768h1M170 769h1M170 772h1M170 773h1M170 774h1M170 775h1M170 776h1M170 777h1M170 783h1M170 789h1M170 790h1M170 792h1M170 793h1M170 797h1M170 798h1M170 799h1M170 801h1M170 802h1M170 805h1M170 822h1M170 829h1M170 830h1M171 765h1M171 766h1M171 767h1M171 768h1M171 769h1M171 771h1M171 773h1M171 774h1M171 776h1M171 777h1M171 786h1M171 787h1M171 789h1M171 790h1M171 793h1M171 794h1M171 796h1M171 798h1M171 802h1M171 803h1M171 820h1M171 821h1M171 822h1M171 823h1M171 824h1M172 765h1M172 768h1M172 769h1M172 770h1M172 771h1M172 772h1M172 773h1M172 775h1M172 776h1M172 777h1M172 784h1M172 785h1M172 786h1M172 787h1M172 794h1M172 795h1M172 796h1M172 797h1M172 799h1M172 800h1M172 801h1M172 802h1M172 803h1M172 804h1M172 805h1M172 820h1M172 822h1M172 823h1M173 765h1M173 766h1M173 768h1M173 770h1M173 771h1M173 772h1M173 774h1M173 776h1M173 778h1M173 780h1M173 782h1M173 786h1M173 789h1M173 790h1M173 793h1M173 796h1M173 797h1M173 798h1M173 799h1M173 800h1M173 801h1M173 802h1M173 803h1M173 805h1M173 820h1M173 821h1M173 822h1M173 823h1M174 767h1M174 769h1M174 772h1M174 775h1M174 778h1M174 779h1M174 780h1M174 782h1M174 784h1M174 785h1M174 788h1M174 789h1M174 791h1M174 794h1M174 795h1M174 797h1M174 799h1M174 800h1M174 802h1M174 804h1M174 823h1M175 767h1M175 768h1M175 769h1M175 770h1M175 771h1M175 772h1M175 773h1M175 774h1M175 775h1M175 776h1M175 779h1M175 780h1M175 782h1M175 783h1M175 784h1M175 786h1M175 787h1M175 790h1M175 792h1M175 793h1M175 794h1M175 795h1M175 797h1M175 798h1M175 801h1M175 802h1M175 804h1M175 822h1M176 768h1M176 769h1M176 770h1M176 771h1M176 775h1M176 784h1M176 785h1M176 786h1M176 788h1M176 789h1M176 790h1M176 791h1M176 792h1M176 795h1M176 797h1M176 799h1M176 802h1M176 803h1M176 819h1M176 820h1M176 821h1M177 763h1M177 768h1M177 769h1M177 770h1M177 771h1M177 772h1M177 775h1M177 782h1M177 783h1M177 784h1M177 785h1M177 788h1M177 789h1M177 792h1M177 793h1M177 794h1M177 795h1M177 797h1M177 798h1M177 799h1M177 801h1M177 803h1M177 804h1M177 805h1M177 818h1M177 819h1M177 820h1M177 821h1M178 763h1M178 768h1M178 770h1M178 771h1M178 799h1M178 800h1M178 801h1M178 806h1M178 817h1M178 818h1M179 768h1M179 769h1M179 770h1M179 799h1M179 800h1M179 801h1M179 802h1M179 806h1M179 816h1M179 817h1M180 768h1M180 800h1M180 801h1M180 802h1M180 803h1M180 804h1M180 805h1M180 806h1M180 807h1M180 814h1M180 815h1M180 816h1M181 767h1M181 801h1M181 808h1M181 813h1M181 815h1M181 816h1M182 802h1M182 804h1M182 805h1M182 806h1M182 808h1M182 809h1M182 812h1M182 815h1M182 816h1M183 798h1M183 799h1M183 804h1M183 805h1M183 806h1M183 807h1M183 809h1M183 810h1M183 811h1M183 812h1M183 813h1M183 817h1M183 818h1M184 806h1M184 809h1M185 804h1M186 803h1M186 804h1" stroke="#5a6cd0"/>
<path d="M114 865h1M114 866h1M114 867h1M114 868h1M115 862h1M115 863h1M115 864h1M115 865h1M115 866h1M115 867h1M115 868h1M115 869h1M115 870h1M116 857h1M116 858h1M116 859h1M116 860h1M116 862h1M116 867h1M116 868h1M116 870h1M117 855h1M117 856h1M117 857h1M117 869h1M117 870h1M117 871h1M117 872h1M117 873h1M118 854h1M118 855h1M118 870h1M118 871h1M118 872h1M118 873h1M119 852h1M119 853h1M119 854h1M119 870h1M119 871h1M119 872h1M120 850h1M120 851h1M120 852h1M120 870h1M121 850h1M121 870h1M122 848h1M122 849h1M123 847h1M123 848h1M123 868h1M123 869h1M124 846h1M124 847h1M124 848h1M124 867h1M124 868h1M125 846h1M125 847h1M125 865h1M125 866h1M125 867h1M126 846h1M126 864h1M126 865h1M128 842h1M128 843h1M128 844h1M128 845h1M128 846h1M128 860h1M128 861h1M128 862h1M129 841h1M129 842h1M129 844h1M129 845h1M129 846h1M129 858h1M129 860h1M130 836h1M130 837h1M130 841h1M130 842h1M130 843h1M130 844h1M130 845h1M130 846h1M130 847h1M130 848h1M130 853h1M130 854h1M130 855h1M130 856h1M130 857h1M131 830h1M131 831h1M131 832h1M131 833h1M131 834h1M131 835h1M131 836h1M131 837h1M131 838h1M131 841h1M131 842h1M131 843h1M131 844h1M131 845h1M131 846h1M131 847h1M131 848h1M131 849h1M131 850h1M131 851h1M131 853h1M131 855h1M131 856h1M132 829h1M132 830h1M132 831h1M132 832h1M132 833h1M132 834h1M132 835h1M132 836h1M132 837h1M132 838h1M132 840h1M132 841h1M132 842h1M132 843h1M132 844h1M132 845h1M132 846h1M132 848h1M132 849h1M132 850h1M132 851h1M132 852h1M133 829h1M133 830h1M133 831h1M133 832h1M133 833h1M133 834h1M133 835h1M133 836h1M133 838h1M133 839h1M133 840h1M133 841h1M133 842h1M133 843h1M133 844h1M133 846h1M133 847h1M134 827h1M134 828h1M134 829h1M134 830h1M134 831h1M134 832h1M134 833h1M134 834h1M134 835h1M134 836h1M134 837h1M134 839h1M134 840h1M134 841h1M134 842h1M134 843h1M134 844h1M134 845h1M135 814h1M135 815h1M135 816h1M135 817h1M135 826h1M135 827h1M135 828h1M135 829h1M135 830h1M135 831h1M135 832h1M135 833h1M135 834h1M135 835h1M135 838h1M135 839h1M135 840h1M135 841h1M136 813h1M136 814h1M136 815h1M136 816h1M136 817h1M136 824h1M136 825h1M136 826h1M136 828h1M136 830h1M136 831h1M136 833h1M136 834h1M136 836h1M136 837h1M136 839h1M137 807h1M137 812h1M137 814h1M137 815h1M137 816h1M137 817h1M137 818h1M137 822h1M137 824h1M137 825h1M137 829h1M137 830h1M137 831h1M137 832h1M137 834h1M138 807h1M138 808h1M138 812h1M138 813h1M138 814h1M138 815h1M138 816h1M138 817h1M138 818h1M138 819h1M138 820h1M138 823h1M138 824h1M138 825h1M138 826h1M138 829h1M138 830h1M138 831h1M138 832h1M138 833h1M139 806h1M139 807h1M139 808h1M139 809h1M139 811h1M139 813h1M139 814h1M139 815h1M139 816h1M139 817h1M139 818h1M139 819h1M139 820h1M139 821h1M139 822h1M139 823h1M139 826h1M139 829h1M139 830h1M139 831h1M139 832h1M140 806h1M140 807h1M140 808h1M140 809h1M140 810h1M140 811h1M140 812h1M140 813h1M140 814h1M140 815h1M140 816h1M140 818h1M140 819h1M140 820h1M140 821h1M140 822h1M140 823h1M140 824h1M140 825h1M140 826h1M140 829h1M140 830h1M140 831h1M141 806h1M141 809h1M141 810h1M141 811h1M141 812h1M141 813h1M141 814h1M141 815h1M141 816h1M141 817h1M141 819h1M141 820h1M141 821h1M141 822h1M141 823h1M141 824h1M141 825h1M141 829h1M141 830h1M142 805h1M142 806h1M142 807h1M142 808h1M142 810h1M142 811h1M142 812h1M142 813h1M142 814h1M142 816h1M142 819h1M142 820h1M142 821h1M142 822h1M142 823h1M142 824h1M142 825h1M143 805h1M143 806h1M143 807h1M143 808h1M143 809h1M143 810h1M143 811h1M143 813h1M143 814h1M143 815h1M143 816h1M143 821h1M144 806h1M144 807h1M144 808h1M144 809h1M144 810h1M144 811h1M144 812h1M144 813h1M144 814h1M144 815h1M145 811h1M145 813h1M145 814h1M145 815h1M152 818h1M152 819h1M153 814h1M153 815h1M153 816h1M153 817h1M153 818h1M153 819h1M153 820h1M154 813h1M154 814h1M154 815h1M154 816h1M154 817h1M154 818h1M154 819h1M154 820h1M155 814h1M155 815h1M155 816h1M155 817h1M155 818h1M155 819h1M155 820h1M156 814h1M156 815h1M156 816h1M156 820h1M157 812h1M157 813h1M157 814h1M157 820h1M157 821h1M158 811h1M158 812h1M158 813h1M158 820h1M158 821h1M158 822h1M159 810h1M159 811h1M159 812h1M159 820h1M159 821h1M160 811h1M160 812h1M160 820h1M160 821h1M161 811h1M161 812h1M161 820h1M161 821h1M162 810h1M162 811h1M162 812h1M162 821h1M163 809h1M163 810h1M163 811h1M163 820h1M163 821h1M164 771h1M164 772h1M164 773h1M164 811h1M164 820h1M164 821h1M165 772h1M165 773h1M165 774h1M165 810h1M165 820h1M165 821h1M166 773h1M166 774h1M166 809h1M166 820h1M166 821h1M167 772h1M167 773h1M167 774h1M167 808h1M167 809h1M167 810h1M167 820h1M167 821h1M168 773h1M168 808h1M168 810h1M168 819h1M168 820h1M169 807h1M169 808h1M169 809h1M169 819h1M169 820h1M170 806h1M170 807h1M170 808h1M170 809h1M170 819h1M170 820h1M171 806h1M171 807h1M171 808h1M171 809h1M171 818h1M171 819h1M172 806h1M172 807h1M172 808h1M172 809h1M172 818h1M172 819h1M173 806h1M173 808h1M173 809h1M173 817h1M174 806h1M174 807h1M174 808h1M174 809h1M174 817h1M174 818h1M175 806h1M175 807h1M175 808h1M175 809h1M175 810h1M175 817h1M175 818h1M176 804h1M176 805h1M176 806h1M176 807h1M176 808h1M176 809h1M176 810h1M176 815h1M176 816h1M176 817h1M176 818h1M177 807h1M177 808h1M177 809h1M177 810h1M177 814h1M177 815h1M177 816h1M177 817h1M178 808h1M178 809h1M178 810h1M178 811h1M178 812h1M178 813h1M178 814h1M178 815h1M179 807h1M179 808h1M179 809h1M179 810h1M179 811h1M179 812h1M179 813h1M179 814h1M179 815h1M180 808h1M180 809h1M180 810h1M180 812h1M180 813h1M181 810h1M181 811h1M181 812h1M182 810h1M182 811h1" stroke="#2747c4"/>
<path d="M116 863h1M116 864h1M116 865h1M116 866h1M117 859h1M117 860h1M117 861h1M117 862h1M117 863h1M117 864h1M117 865h1M117 866h1M117 867h1M117 868h1M118 856h1M118 857h1M118 858h1M118 868h1M118 869h1M119 855h1M119 856h1M119 869h1M120 853h1M120 854h1M120 869h1M121 851h1M121 852h1M121 853h1M121 868h1M121 869h1M122 850h1M122 851h1M122 866h1M122 867h1M122 868h1M123 849h1M123 850h1M123 866h1M123 867h1M124 849h1M124 865h1M124 866h1M125 848h1M125 849h1M125 864h1M126 847h1M126 848h1M126 863h1M127 847h1M127 848h1M127 860h1M127 861h1M127 862h1M128 847h1M128 848h1M128 857h1M128 858h1M128 859h1M129 847h1M129 848h1M129 849h1M129 850h1M129 851h1M129 852h1M129 853h1M129 854h1M129 855h1M129 856h1M129 857h1M130 849h1M130 850h1M130 851h1M130 852h1M156 817h1M156 818h1M156 819h1M157 815h1M157 816h1M157 817h1M157 818h1M157 819h1M158 814h1M158 815h1M158 816h1M158 817h1M158 818h1M158 819h1M159 813h1M159 814h1M159 815h1M159 818h1M159 819h1M160 813h1M160 814h1M160 815h1M160 819h1M161 813h1M161 814h1M161 819h1M162 813h1M162 814h1M162 819h1M162 820h1M163 812h1M163 813h1M163 819h1M164 812h1M164 819h1M165 811h1M165 812h1M165 819h1M166 811h1M166 812h1M166 818h1M166 819h1M167 811h1M167 818h1M167 819h1M168 811h1M168 818h1M169 810h1M169 811h1M169 818h1M170 810h1M170 811h1M170 817h1M170 818h1M171 810h1M171 811h1M171 816h1M171 817h1M172 810h1M172 811h1M172 816h1M172 817h1M173 811h1M173 816h1M174 810h1M174 811h1M174 815h1M174 816h1M175 811h1M175 812h1M175 813h1M175 814h1M175 815h1M175 816h1M176 811h1M176 812h1M176 813h1M176 814h1M177 811h1M177 812h1M177 813h1" stroke="#1a62d4"/>
<path d="M118 859h1M118 860h1M118 861h1M118 862h1M118 863h1M118 864h1M118 865h1M118 866h1M118 867h1M119 857h1M119 858h1M119 867h1M119 868h1M120 855h1M120 856h1M120 867h1M120 868h1M121 854h1M121 866h1M121 867h1M122 852h1M122 865h1M123 851h1M123 864h1M123 865h1M124 850h1M124 851h1M124 864h1M125 850h1M125 863h1M126 849h1M126 850h1M126 861h1M126 862h1M127 849h1M127 850h1M127 858h1M127 859h1M128 849h1M128 850h1M128 851h1M128 852h1M128 853h1M128 854h1M128 855h1M128 856h1M159 816h1M159 817h1M160 816h1M160 817h1M160 818h1M161 815h1M161 816h1M161 817h1M161 818h1M162 815h1M162 816h1M162 817h1M162 818h1M163 814h1M163 815h1M163 816h1M163 817h1M163 818h1M164 813h1M164 814h1M164 817h1M164 818h1M165 813h1M165 817h1M165 818h1M166 813h1M166 817h1M167 812h1M167 817h1M168 812h1M168 813h1M168 817h1M169 812h1M169 813h1M169 816h1M169 817h1M170 812h1M170 813h1M170 814h1M170 815h1M170 816h1M171 812h1M171 813h1M171 814h1M171 815h1M172 812h1M172 814h1M172 815h1M173 812h1M173 813h1M173 814h1M173 815h1M174 812h1M174 813h1M174 814h1" stroke="#1aa0d8"/>
<path d="M119 859h1M119 863h1M119 864h1M119 865h1M119 866h1M120 857h1M120 864h1M120 865h1M120 866h1M121 855h1M121 856h1M121 864h1M121 865h1M122 853h1M122 854h1M122 864h1M123 852h1M123 853h1M123 863h1M124 852h1M124 863h1M125 851h1M125 852h1M125 861h1M125 862h1M126 851h1M126 852h1M126 859h1M126 860h1M127 851h1M127 852h1M127 853h1M127 854h1M127 855h1M127 856h1M127 857h1M164 815h1M164 816h1M165 814h1M165 815h1M165 816h1M166 814h1M166 815h1M166 816h1M167 813h1M167 814h1M167 816h1M168 814h1M168 815h1M168 816h1M169 814h1M169 815h1M172 813h1" stroke="#20c8a8"/>
<path d="M119 860h1M119 861h1M119 862h1M120 858h1M120 863h1M121 857h1M121 863h1M122 855h1M122 856h1M122 863h1M123 854h1M123 862h1M124 853h1M124 862h1M125 853h1M125 854h1M125 860h1M126 853h1M126 854h1M126 855h1M126 856h1M126 857h1M126 858h1M167 815h1" stroke="#3fe05a"/>
<path d="M120 859h1M120 862h1M121 858h1M121 862h1M122 857h1M122 862h1M123 855h1M123 856h1M124 854h1M124 855h1M124 861h1M125 855h1M125 856h1M125 859h1" stroke="#b8ee38"/>
<path d="M120 860h1M120 861h1M122 858h1M123 857h1M123 861h1M124 856h1M124 860h1M125 857h1M125 858h1" stroke="#ffe92a"/>
<path d="M121 859h1M121 861h1M122 861h1M123 858h1M123 860h1M124 857h1M124 858h1M124 859h1" stroke="#ffa020"/>
<path d="M121 860h1M122 859h1M122 860h1M123 859h1" stroke="#f02810"/>
</g>
<use href="#sc2" filter="url(#bs)" opacity="0.55"/>
<path d="M150.2,733.3V879.5 M95.6,834.5H255.4" stroke="#222" stroke-width="1" fill="none"/>
<text x="88.4" y="878.5" font-family='"Liberation Sans", sans-serif' font-size="7.4" text-anchor="end" fill="#222">10<tspan dx="0.8" dy="-3.6" font-size="6.6">0</tspan></text>
<text x="104" y="894.8" font-family='"Liberation Sans", sans-serif' font-size="7.4" text-anchor="middle" fill="#222">10<tspan dx="0.8" dy="-3.6" font-size="6.6">0</tspan></text>
<text x="88.4" y="845" font-family='"Liberation Sans", sans-serif' font-size="7.4" text-anchor="end" fill="#222">10<tspan dx="0.8" dy="-3.6" font-size="6.6">1</tspan></text>
<text x="140.2" y="894.8" font-family='"Liberation Sans", sans-serif' font-size="7.4" text-anchor="middle" fill="#222">10<tspan dx="0.8" dy="-3.6" font-size="6.6">1</tspan></text>
<text x="88.4" y="808" font-family='"Liberation Sans", sans-serif' font-size="7.4" text-anchor="end" fill="#222">10<tspan dx="0.8" dy="-3.6" font-size="6.6">2</tspan></text>
<text x="176.6" y="894.8" font-family='"Liberation Sans", sans-serif' font-size="7.4" text-anchor="middle" fill="#222">10<tspan dx="0.8" dy="-3.6" font-size="6.6">2</tspan></text>
<text x="88.4" y="771.1" font-family='"Liberation Sans", sans-serif' font-size="7.4" text-anchor="end" fill="#222">10<tspan dx="0.8" dy="-3.6" font-size="6.6">3</tspan></text>
<text x="214.6" y="894.8" font-family='"Liberation Sans", sans-serif' font-size="7.4" text-anchor="middle" fill="#222">10<tspan dx="0.8" dy="-3.6" font-size="6.6">3</tspan></text>
<text x="88.4" y="744" font-family='"Liberation Sans", sans-serif' font-size="7.4" text-anchor="end" fill="#222">10<tspan dx="0.8" dy="-3.6" font-size="6.6">4</tspan></text>
<text x="252" y="894.8" font-family='"Liberation Sans", sans-serif' font-size="7.4" text-anchor="middle" fill="#222">10<tspan dx="0.8" dy="-3.6" font-size="6.6">4</tspan></text>
<path d="M95.6,879.5h-4.5M95.6,868.4h-2.3M95.6,861.9h-2.3M95.6,857.3h-2.3M95.6,853.7h-2.3M95.6,850.8h-2.3M95.6,848.3h-2.3M95.6,846.2h-2.3M95.6,844.3h-2.3M95.6,879.5v4.2M107.6,879.5v2.2M114.7,879.5v2.2M119.7,879.5v2.2M123.5,879.5v2.2M126.7,879.5v2.2M129.4,879.5v2.2M131.7,879.5v2.2M133.7,879.5v2.2M95.6,842.6h-4.5M95.6,831.5h-2.3M95.6,825h-2.3M95.6,820.3h-2.3M95.6,816.8h-2.3M95.6,813.8h-2.3M95.6,811.4h-2.3M95.6,809.2h-2.3M95.6,807.3h-2.3M135.6,879.5v4.2M147.6,879.5v2.2M154.6,879.5v2.2M159.6,879.5v2.2M163.5,879.5v2.2M166.6,879.5v2.2M169.3,879.5v2.2M171.6,879.5v2.2M173.7,879.5v2.2M95.6,805.6h-4.5M95.6,794.5h-2.3M95.6,788h-2.3M95.6,783.4h-2.3M95.6,779.8h-2.3M95.6,776.9h-2.3M95.6,774.4h-2.3M95.6,772.3h-2.3M95.6,770.4h-2.3M175.5,879.5v4.2M187.5,879.5v2.2M194.6,879.5v2.2M199.6,879.5v2.2M203.4,879.5v2.2M206.6,879.5v2.2M209.3,879.5v2.2M211.6,879.5v2.2M213.6,879.5v2.2M95.6,768.7h-4.5M95.6,757.6h-2.3M95.6,751.1h-2.3M95.6,746.5h-2.3M95.6,742.9h-2.3M95.6,740h-2.3M95.6,737.5h-2.3M95.6,735.4h-2.3M95.6,733.5h-2.3M215.4,879.5v4.2M227.5,879.5v2.2M234.5,879.5v2.2M239.5,879.5v2.2M243.4,879.5v2.2M246.5,879.5v2.2M249.2,879.5v2.2M251.5,879.5v2.2M253.6,879.5v2.2M95.6,731.8h-4.5M255.4,879.5v4.2" stroke="#2a2a2a" stroke-width="0.7" fill="none"/>
<text x="98.5" y="739" font-family='"Liberation Sans", sans-serif' font-size="7.4" text-anchor="start" fill="#333">Q1</text>
<text x="98.5" y="749.3" font-family='"Liberation Sans", sans-serif' font-size="7.4" text-anchor="start" fill="#333">10.0%</text>
<text x="229.8" y="739" font-family='"Liberation Sans", sans-serif' font-size="7.4" text-anchor="start" fill="#333">Q2</text>
<text x="229.8" y="749.3" font-family='"Liberation Sans", sans-serif' font-size="7.4" text-anchor="start" fill="#333">33.0%</text>
<text x="98.5" y="865.2" font-family='"Liberation Sans", sans-serif' font-size="7.4" text-anchor="start" fill="#333">Q4</text>
<text x="98.5" y="876" font-family='"Liberation Sans", sans-serif' font-size="7.4" text-anchor="start" fill="#333">56.8%</text>
<text x="226.5" y="865.2" font-family='"Liberation Sans", sans-serif' font-size="7.4" text-anchor="start" fill="#333">Q3</text>
<text x="226.5" y="876" font-family='"Liberation Sans", sans-serif' font-size="7.4" text-anchor="start" fill="#333">0.111%</text>
<text x="167.4" y="536.2" font-family='"Liberation Serif", serif' font-size="16.4" font-weight="bold" text-anchor="middle" >Plex-null</text>
<text x="162.3" y="725.4" font-family='"Liberation Serif", serif' font-size="16" font-weight="bold" text-anchor="middle" >Plex−SZRD1</text>
<text x="161.2" y="925.6" font-family='"Liberation Serif", serif' font-size="16.5" font-weight="bold" text-anchor="middle" >FITC- Annexin V</text>
<text transform="translate(57.3,716.2) rotate(-90)" font-family='"Liberation Serif", serif' font-size="15.2" font-weight="bold" text-anchor="middle">PI</text>
<path d="M66.4,551 L72.2,903.8 L256,904.6" fill="none" stroke="#111" stroke-width="1.6"/>
<path d="M66.2,544.3 L62.7,552.3 H69.9 Z" fill="#111"/>
<path d="M263.2,904.6 L254.6,901 V908.2 Z" fill="#111"/>
<text transform="translate(260.5,612) rotate(-90)" font-family='"Liberation Sans", sans-serif' font-size="4.5" text-anchor="middle" fill="#777">FL2-H</text>
<rect x="419.5" y="653.7" width="85" height="54.3" fill="url(#chkS)" stroke="#111" stroke-width="1.8"/>
<rect x="547.6" y="559.3" width="85.4" height="148.7" fill="url(#chkL)" stroke="#111" stroke-width="2"/>
<path d="M396.6,536V708.7 M391,708H653.5 M526,708V713 M391,708H396.6M391,673.7H396.6M391,639.5H396.6M391,605.2H396.6M391,571H396.6M391,536.7H396.6" fill="none" stroke="#111" stroke-width="1.4"/>
<text x="390.3" y="712.4" font-family='"Liberation Sans", sans-serif' font-size="12.5" font-weight="bold" text-anchor="end" >0</text>
<text x="390.3" y="678.1" font-family='"Liberation Sans", sans-serif' font-size="12.5" font-weight="bold" text-anchor="end" >10</text>
<text x="390.3" y="643.9" font-family='"Liberation Sans", sans-serif' font-size="12.5" font-weight="bold" text-anchor="end" >20</text>
<text x="390.3" y="609.6" font-family='"Liberation Sans", sans-serif' font-size="12.5" font-weight="bold" text-anchor="end" >30</text>
<text x="390.3" y="575.4" font-family='"Liberation Sans", sans-serif' font-size="12.5" font-weight="bold" text-anchor="end" >40</text>
<text x="390.3" y="541.1" font-family='"Liberation Sans", sans-serif' font-size="12.5" font-weight="bold" text-anchor="end" >50</text>
<text transform="translate(367.6,621.5) rotate(-90)" font-family='"Liberation Serif", serif' font-size="15.9" font-weight="bold" text-anchor="middle">Apoptosis(%)</text>
<rect x="408.4" y="525.5" width="18.6" height="11.8" fill="url(#chkS)" stroke="#111" stroke-width="1.9"/>
<rect x="408.4" y="546.1" width="18.6" height="11.9" fill="url(#chkL2)" stroke="#111" stroke-width="1.9"/>
<text x="437.9" y="536.8" font-family='"Liberation Serif", serif' font-size="15.6" font-weight="bold" text-anchor="start" >Plex-null</text>
<text x="437.9" y="557.3" font-family='"Liberation Serif", serif' font-size="15.7" font-weight="bold" text-anchor="start" >Plex-SZRD1</text>
<text x="589" y="554.8" font-family='"Liberation Serif", serif' font-size="15.5" font-weight="normal" text-anchor="middle" >***</text>
<text x="378.4" y="751.3" font-family='"Liberation Serif", serif' font-size="14.5" font-weight="bold" text-anchor="start" >E</text>
<text x="470.2" y="765.2" font-family='"Liberation Serif", serif' font-size="17.1" font-weight="bold" text-anchor="start" >Plex-null</text>
<text x="566.7" y="765.2" font-family='"Liberation Serif", serif' font-size="16.7" font-weight="bold" text-anchor="start" >Plex-SZRD1</text>
<text x="458.3" y="794.2" font-family='"Liberation Serif", serif' font-size="17" font-weight="bold" text-anchor="end" >Caspase 3</text>
<text x="455.8" y="825.5" font-family='"Liberation Serif", serif' font-size="17.1" font-weight="bold" text-anchor="end" >Caspase 3-cleaved</text>
<text x="457.5" y="855.6" font-family='"Liberation Serif", serif' font-size="17" font-weight="bold" text-anchor="end" >SZRD1</text>
<text x="457.5" y="879.6" font-family='"Liberation Serif", serif' font-size="17" font-weight="bold" text-anchor="end" >ACTIN</text>
<path d="M471.6,783 Q474.6,777 483.4,777 L499.2,777 Q508,777 511,783 Q508,789 499.2,789 L483.4,789 Q474.6,789 471.6,783 Z" fill="#0a0a0a" opacity="1" filter="url(#b1)"/>
<path d="M503,783.2 Q506.1,777.2 515.3,777.2 L531.8,777.2 Q541,777.2 544.1,783.2 Q541,789.2 531.8,789.2 L515.3,789.2 Q506.1,789.2 503,783.2 Z" fill="#0a0a0a" opacity="1" filter="url(#b1)"/>
<path d="M480,783 Q482.8,778.2 491.2,778.2 L524.8,778.2 Q533.2,778.2 536,783 Q533.2,787.8 524.8,787.8 L491.2,787.8 Q482.8,787.8 480,783 Z" fill="#0a0a0a" opacity="1" filter="url(#b1)"/>
<path d="M578.9,783.4 Q581.6,777.8 589.7,777.8 L604.2,777.8 Q612.3,777.8 615,783.4 Q612.3,789 604.2,789 L589.7,789 Q581.6,789 578.9,783.4 Z" fill="#0a0a0a" opacity="1" filter="url(#b1)"/>
<path d="M609,783.4 Q611.7,777.8 620,777.8 L634.6,777.8 Q642.9,777.8 645.6,783.4 Q642.9,789 634.6,789 L620,789 Q611.7,789 609,783.4 Z" fill="#0a0a0a" opacity="1" filter="url(#b1)"/>
<path d="M586,783.4 Q588.6,778.9 596.4,778.9 L627.6,778.9 Q635.4,778.9 638,783.4 Q635.4,787.9 627.6,787.9 L596.4,787.9 Q588.6,787.9 586,783.4 Z" fill="#0a0a0a" opacity="1" filter="url(#b1)"/>
<linearGradient id="gcl" x1="0" x2="1" y1="0" y2="0"><stop offset="0" stop-color="#aaa"/><stop offset="0.6" stop-color="#555"/><stop offset="1" stop-color="#1a1a1a"/></linearGradient>
<path d="M473,813.2 Q476.8,811.6 488.2,812.6 L518.8,814.6 Q530.2,815.6 534,817.2 Q530.2,818.8 518.8,817.8 L488.2,815.8 Q476.8,814.8 473,813.2 Z" fill="url(#gcl)" opacity="1" filter="url(#b0)"/>
<path d="M578.9,817.6 Q584.3,813.6 600.6,813.6 L629.6,813.6 Q646,813.6 651.4,817.6 Q646,821.6 629.6,821.6 L600.6,821.6 Q584.3,821.6 578.9,817.6 Z" fill="#080808" opacity="1" filter="url(#b1)"/>
<path d="M573,843.8 Q578.6,838 595.4,838 L630.5,838 Q647.3,838 652.9,843.8 Q647.3,849.5 630.5,849.5 L595.4,849.5 Q578.6,849.5 573,843.8 Z" fill="#050505" opacity="1" filter="url(#b0)"/>
<path d="M473,874 Q480,871 500.9,871 L538.1,871 Q559,871 566,874 Q559,877 538.1,877 L500.9,877 Q480,877 473,874 Z" fill="#0a0a0a" opacity="1" filter="url(#b0)"/>
<path d="M562.5,874 Q569.8,870.8 591.8,870.8 L630.8,870.8 Q652.7,870.8 660,874 Q652.7,877.2 630.8,877.2 L591.8,877.2 Q569.8,877.2 562.5,874 Z" fill="#0a0a0a" opacity="1" filter="url(#b0)"/>
</svg></body></html>
